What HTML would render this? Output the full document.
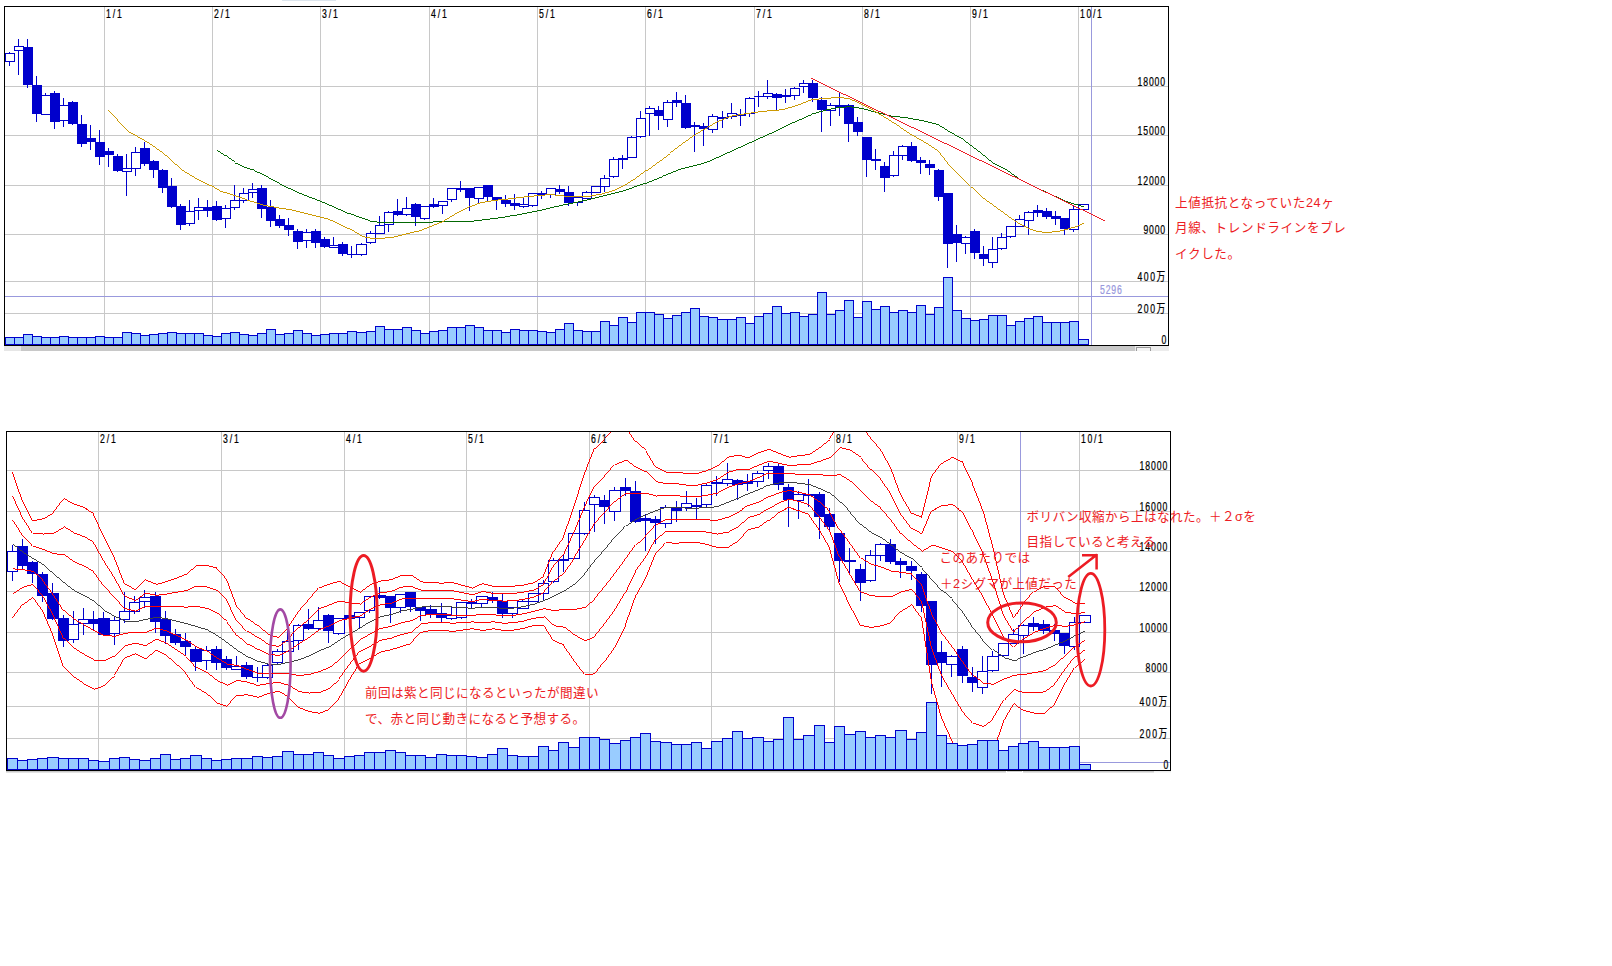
<!DOCTYPE html>
<html lang="ja"><head><meta charset="utf-8"><title>chart</title>
<style>
html,body{margin:0;padding:0;background:#fff;}
body{width:1612px;height:966px;overflow:hidden;font-family:"Liberation Sans","Noto Sans CJK JP",sans-serif;}
svg{display:block;font-family:"Liberation Sans","Noto Sans CJK JP",sans-serif;}
</style></head><body>
<svg width="1612" height="966" viewBox="0 0 1612 966">
<rect width="1612" height="966" fill="#fff"/>
<rect x="282" y="0" width="54" height="1" fill="#dde6ee"/>
<g shape-rendering="crispEdges">
<rect x="104" y="6" width="1" height="339" fill="#c8c8c8"/>
<rect x="212" y="6" width="1" height="339" fill="#c8c8c8"/>
<rect x="320" y="6" width="1" height="339" fill="#c8c8c8"/>
<rect x="429" y="6" width="1" height="339" fill="#c8c8c8"/>
<rect x="537" y="6" width="1" height="339" fill="#c8c8c8"/>
<rect x="645" y="6" width="1" height="339" fill="#c8c8c8"/>
<rect x="754" y="6" width="1" height="339" fill="#c8c8c8"/>
<rect x="862" y="6" width="1" height="339" fill="#c8c8c8"/>
<rect x="970" y="6" width="1" height="339" fill="#c8c8c8"/>
<rect x="1078" y="6" width="1" height="339" fill="#c8c8c8"/>
<rect x="4" y="86" width="1164" height="1" fill="#c8c8c8"/>
<rect x="4" y="135" width="1164" height="1" fill="#c8c8c8"/>
<rect x="4" y="185" width="1164" height="1" fill="#c8c8c8"/>
<rect x="4" y="234" width="1164" height="1" fill="#c8c8c8"/>
<rect x="4" y="281" width="1164" height="1" fill="#c8c8c8"/>
<rect x="4" y="313" width="1164" height="1" fill="#c8c8c8"/>
<rect x="4" y="296" width="1164" height="1" fill="#9999dd"/>
<rect x="1091" y="6" width="1" height="339" fill="#9999dd"/>
</g>
<g shape-rendering="crispEdges">
<rect x="5.5" y="337.5" width="9" height="7" fill="#99ccff" stroke="#0000cc"/>
<rect x="14.5" y="337.5" width="9" height="7" fill="#99ccff" stroke="#0000cc"/>
<rect x="23.5" y="334.5" width="9" height="10" fill="#99ccff" stroke="#0000cc"/>
<rect x="32.5" y="336.5" width="9" height="8" fill="#99ccff" stroke="#0000cc"/>
<rect x="41.5" y="337.5" width="9" height="7" fill="#99ccff" stroke="#0000cc"/>
<rect x="50.5" y="337.5" width="9" height="7" fill="#99ccff" stroke="#0000cc"/>
<rect x="59.5" y="336.5" width="9" height="8" fill="#99ccff" stroke="#0000cc"/>
<rect x="68.5" y="337.5" width="9" height="7" fill="#99ccff" stroke="#0000cc"/>
<rect x="77.5" y="337.5" width="9" height="7" fill="#99ccff" stroke="#0000cc"/>
<rect x="86.5" y="337.5" width="9" height="7" fill="#99ccff" stroke="#0000cc"/>
<rect x="95.5" y="336.5" width="9" height="8" fill="#99ccff" stroke="#0000cc"/>
<rect x="104.5" y="337.5" width="9" height="7" fill="#99ccff" stroke="#0000cc"/>
<rect x="113.5" y="337.5" width="9" height="7" fill="#99ccff" stroke="#0000cc"/>
<rect x="122.5" y="332.5" width="9" height="12" fill="#99ccff" stroke="#0000cc"/>
<rect x="131.5" y="333.5" width="9" height="11" fill="#99ccff" stroke="#0000cc"/>
<rect x="140.5" y="335.5" width="9" height="9" fill="#99ccff" stroke="#0000cc"/>
<rect x="149.5" y="334.5" width="9" height="10" fill="#99ccff" stroke="#0000cc"/>
<rect x="158.5" y="333.5" width="9" height="11" fill="#99ccff" stroke="#0000cc"/>
<rect x="167.5" y="332.5" width="9" height="12" fill="#99ccff" stroke="#0000cc"/>
<rect x="176.5" y="333.5" width="9" height="11" fill="#99ccff" stroke="#0000cc"/>
<rect x="185.5" y="333.5" width="9" height="11" fill="#99ccff" stroke="#0000cc"/>
<rect x="194.5" y="333.5" width="9" height="11" fill="#99ccff" stroke="#0000cc"/>
<rect x="203.5" y="335.5" width="9" height="9" fill="#99ccff" stroke="#0000cc"/>
<rect x="212.5" y="336.5" width="9" height="8" fill="#99ccff" stroke="#0000cc"/>
<rect x="221.5" y="333.5" width="9" height="11" fill="#99ccff" stroke="#0000cc"/>
<rect x="230.5" y="332.5" width="9" height="12" fill="#99ccff" stroke="#0000cc"/>
<rect x="239.5" y="334.5" width="9" height="10" fill="#99ccff" stroke="#0000cc"/>
<rect x="248.5" y="335.5" width="9" height="9" fill="#99ccff" stroke="#0000cc"/>
<rect x="257.5" y="333.5" width="9" height="11" fill="#99ccff" stroke="#0000cc"/>
<rect x="266.5" y="329.5" width="9" height="15" fill="#99ccff" stroke="#0000cc"/>
<rect x="275.5" y="334.5" width="9" height="10" fill="#99ccff" stroke="#0000cc"/>
<rect x="284.5" y="333.5" width="9" height="11" fill="#99ccff" stroke="#0000cc"/>
<rect x="293.5" y="330.5" width="9" height="14" fill="#99ccff" stroke="#0000cc"/>
<rect x="302.5" y="333.5" width="9" height="11" fill="#99ccff" stroke="#0000cc"/>
<rect x="311.5" y="335.5" width="9" height="9" fill="#99ccff" stroke="#0000cc"/>
<rect x="320.5" y="334.5" width="9" height="10" fill="#99ccff" stroke="#0000cc"/>
<rect x="329.5" y="333.5" width="9" height="11" fill="#99ccff" stroke="#0000cc"/>
<rect x="338.5" y="333.5" width="9" height="11" fill="#99ccff" stroke="#0000cc"/>
<rect x="347.5" y="331.5" width="9" height="13" fill="#99ccff" stroke="#0000cc"/>
<rect x="356.5" y="332.5" width="10" height="12" fill="#99ccff" stroke="#0000cc"/>
<rect x="366.5" y="331.5" width="9" height="13" fill="#99ccff" stroke="#0000cc"/>
<rect x="375.5" y="326.5" width="9" height="18" fill="#99ccff" stroke="#0000cc"/>
<rect x="384.5" y="329.5" width="9" height="15" fill="#99ccff" stroke="#0000cc"/>
<rect x="393.5" y="329.5" width="9" height="15" fill="#99ccff" stroke="#0000cc"/>
<rect x="402.5" y="327.5" width="9" height="17" fill="#99ccff" stroke="#0000cc"/>
<rect x="411.5" y="330.5" width="9" height="14" fill="#99ccff" stroke="#0000cc"/>
<rect x="420.5" y="333.5" width="9" height="11" fill="#99ccff" stroke="#0000cc"/>
<rect x="429.5" y="331.5" width="9" height="13" fill="#99ccff" stroke="#0000cc"/>
<rect x="438.5" y="330.5" width="9" height="14" fill="#99ccff" stroke="#0000cc"/>
<rect x="447.5" y="327.5" width="9" height="17" fill="#99ccff" stroke="#0000cc"/>
<rect x="456.5" y="327.5" width="9" height="17" fill="#99ccff" stroke="#0000cc"/>
<rect x="465.5" y="325.5" width="9" height="19" fill="#99ccff" stroke="#0000cc"/>
<rect x="474.5" y="327.5" width="9" height="17" fill="#99ccff" stroke="#0000cc"/>
<rect x="483.5" y="330.5" width="9" height="14" fill="#99ccff" stroke="#0000cc"/>
<rect x="492.5" y="330.5" width="9" height="14" fill="#99ccff" stroke="#0000cc"/>
<rect x="501.5" y="332.5" width="9" height="12" fill="#99ccff" stroke="#0000cc"/>
<rect x="510.5" y="329.5" width="9" height="15" fill="#99ccff" stroke="#0000cc"/>
<rect x="519.5" y="330.5" width="9" height="14" fill="#99ccff" stroke="#0000cc"/>
<rect x="528.5" y="330.5" width="9" height="14" fill="#99ccff" stroke="#0000cc"/>
<rect x="537.5" y="331.5" width="9" height="13" fill="#99ccff" stroke="#0000cc"/>
<rect x="546.5" y="332.5" width="9" height="12" fill="#99ccff" stroke="#0000cc"/>
<rect x="555.5" y="329.5" width="9" height="15" fill="#99ccff" stroke="#0000cc"/>
<rect x="564.5" y="323.5" width="9" height="21" fill="#99ccff" stroke="#0000cc"/>
<rect x="573.5" y="330.5" width="9" height="14" fill="#99ccff" stroke="#0000cc"/>
<rect x="582.5" y="331.5" width="9" height="13" fill="#99ccff" stroke="#0000cc"/>
<rect x="591.5" y="331.5" width="9" height="13" fill="#99ccff" stroke="#0000cc"/>
<rect x="600.5" y="321.5" width="9" height="23" fill="#99ccff" stroke="#0000cc"/>
<rect x="609.5" y="325.5" width="9" height="19" fill="#99ccff" stroke="#0000cc"/>
<rect x="618.5" y="317.5" width="9" height="27" fill="#99ccff" stroke="#0000cc"/>
<rect x="627.5" y="322.5" width="9" height="22" fill="#99ccff" stroke="#0000cc"/>
<rect x="636.5" y="312.5" width="9" height="32" fill="#99ccff" stroke="#0000cc"/>
<rect x="645.5" y="312.5" width="9" height="32" fill="#99ccff" stroke="#0000cc"/>
<rect x="654.5" y="314.5" width="9" height="30" fill="#99ccff" stroke="#0000cc"/>
<rect x="663.5" y="318.5" width="9" height="26" fill="#99ccff" stroke="#0000cc"/>
<rect x="672.5" y="315.5" width="9" height="29" fill="#99ccff" stroke="#0000cc"/>
<rect x="681.5" y="312.5" width="9" height="32" fill="#99ccff" stroke="#0000cc"/>
<rect x="690.5" y="308.5" width="9" height="36" fill="#99ccff" stroke="#0000cc"/>
<rect x="699.5" y="316.5" width="9" height="28" fill="#99ccff" stroke="#0000cc"/>
<rect x="708.5" y="317.5" width="9" height="27" fill="#99ccff" stroke="#0000cc"/>
<rect x="717.5" y="319.5" width="10" height="25" fill="#99ccff" stroke="#0000cc"/>
<rect x="727.5" y="319.5" width="9" height="25" fill="#99ccff" stroke="#0000cc"/>
<rect x="736.5" y="317.5" width="9" height="27" fill="#99ccff" stroke="#0000cc"/>
<rect x="745.5" y="323.5" width="9" height="21" fill="#99ccff" stroke="#0000cc"/>
<rect x="754.5" y="316.5" width="9" height="28" fill="#99ccff" stroke="#0000cc"/>
<rect x="763.5" y="313.5" width="9" height="31" fill="#99ccff" stroke="#0000cc"/>
<rect x="772.5" y="306.5" width="9" height="38" fill="#99ccff" stroke="#0000cc"/>
<rect x="781.5" y="313.5" width="9" height="31" fill="#99ccff" stroke="#0000cc"/>
<rect x="790.5" y="312.5" width="9" height="32" fill="#99ccff" stroke="#0000cc"/>
<rect x="799.5" y="316.5" width="9" height="28" fill="#99ccff" stroke="#0000cc"/>
<rect x="808.5" y="314.5" width="9" height="30" fill="#99ccff" stroke="#0000cc"/>
<rect x="817.5" y="292.5" width="9" height="52" fill="#99ccff" stroke="#0000cc"/>
<rect x="826.5" y="314.5" width="9" height="30" fill="#99ccff" stroke="#0000cc"/>
<rect x="835.5" y="310.5" width="9" height="34" fill="#99ccff" stroke="#0000cc"/>
<rect x="844.5" y="300.5" width="9" height="44" fill="#99ccff" stroke="#0000cc"/>
<rect x="853.5" y="317.5" width="9" height="27" fill="#99ccff" stroke="#0000cc"/>
<rect x="862.5" y="301.5" width="9" height="43" fill="#99ccff" stroke="#0000cc"/>
<rect x="871.5" y="309.5" width="9" height="35" fill="#99ccff" stroke="#0000cc"/>
<rect x="880.5" y="306.5" width="9" height="38" fill="#99ccff" stroke="#0000cc"/>
<rect x="889.5" y="312.5" width="9" height="32" fill="#99ccff" stroke="#0000cc"/>
<rect x="898.5" y="310.5" width="9" height="34" fill="#99ccff" stroke="#0000cc"/>
<rect x="907.5" y="312.5" width="9" height="32" fill="#99ccff" stroke="#0000cc"/>
<rect x="916.5" y="305.5" width="9" height="39" fill="#99ccff" stroke="#0000cc"/>
<rect x="925.5" y="314.5" width="9" height="30" fill="#99ccff" stroke="#0000cc"/>
<rect x="934.5" y="307.5" width="9" height="37" fill="#99ccff" stroke="#0000cc"/>
<rect x="943.5" y="277.5" width="9" height="67" fill="#99ccff" stroke="#0000cc"/>
<rect x="952.5" y="310.5" width="9" height="34" fill="#99ccff" stroke="#0000cc"/>
<rect x="961.5" y="318.5" width="9" height="26" fill="#99ccff" stroke="#0000cc"/>
<rect x="970.5" y="320.5" width="9" height="24" fill="#99ccff" stroke="#0000cc"/>
<rect x="979.5" y="319.5" width="9" height="25" fill="#99ccff" stroke="#0000cc"/>
<rect x="988.5" y="315.5" width="9" height="29" fill="#99ccff" stroke="#0000cc"/>
<rect x="997.5" y="315.5" width="9" height="29" fill="#99ccff" stroke="#0000cc"/>
<rect x="1006.5" y="325.5" width="9" height="19" fill="#99ccff" stroke="#0000cc"/>
<rect x="1015.5" y="321.5" width="9" height="23" fill="#99ccff" stroke="#0000cc"/>
<rect x="1024.5" y="318.5" width="9" height="26" fill="#99ccff" stroke="#0000cc"/>
<rect x="1033.5" y="316.5" width="9" height="28" fill="#99ccff" stroke="#0000cc"/>
<rect x="1042.5" y="322.5" width="9" height="22" fill="#99ccff" stroke="#0000cc"/>
<rect x="1051.5" y="322.5" width="9" height="22" fill="#99ccff" stroke="#0000cc"/>
<rect x="1060.5" y="322.5" width="9" height="22" fill="#99ccff" stroke="#0000cc"/>
<rect x="1069.5" y="321.5" width="9" height="23" fill="#99ccff" stroke="#0000cc"/>
<rect x="1078.5" y="339.5" width="10" height="5" fill="#99ccff" stroke="#0000cc"/>
</g>
<g shape-rendering="crispEdges">
<rect x="9" y="52" width="1" height="1" fill="#0000cc"/>
<rect x="9" y="62" width="1" height="4" fill="#0000cc"/>
<rect x="5.5" y="53.5" width="9" height="8" fill="#fff" stroke="#0000cc"/>
<rect x="18" y="39" width="1" height="7" fill="#0000cc"/>
<rect x="18" y="51" width="1" height="24" fill="#0000cc"/>
<rect x="14.5" y="46.5" width="9" height="4" fill="#fff" stroke="#0000cc"/>
<rect x="27" y="39" width="1" height="8" fill="#0000cc"/>
<rect x="27" y="85" width="1" height="3" fill="#0000cc"/>
<rect x="23" y="47" width="10" height="38" fill="#0000cc"/>
<rect x="36" y="76" width="1" height="9" fill="#0000cc"/>
<rect x="36" y="114" width="1" height="8" fill="#0000cc"/>
<rect x="32" y="85" width="10" height="29" fill="#0000cc"/>
<rect x="45" y="93" width="1" height="2" fill="#0000cc"/>
<rect x="41.5" y="95.5" width="9" height="19" fill="#fff" stroke="#0000cc"/>
<rect x="54" y="91" width="1" height="2" fill="#0000cc"/>
<rect x="54" y="122" width="1" height="7" fill="#0000cc"/>
<rect x="50" y="93" width="10" height="29" fill="#0000cc"/>
<rect x="63" y="98" width="1" height="7" fill="#0000cc"/>
<rect x="63" y="121" width="1" height="6" fill="#0000cc"/>
<rect x="59.5" y="105.5" width="9" height="15" fill="#fff" stroke="#0000cc"/>
<rect x="72" y="101" width="1" height="1" fill="#0000cc"/>
<rect x="72" y="124" width="1" height="1" fill="#0000cc"/>
<rect x="68" y="102" width="10" height="22" fill="#0000cc"/>
<rect x="81" y="115" width="1" height="9" fill="#0000cc"/>
<rect x="81" y="144" width="1" height="3" fill="#0000cc"/>
<rect x="77" y="124" width="10" height="20" fill="#0000cc"/>
<rect x="90" y="125" width="1" height="13" fill="#0000cc"/>
<rect x="90" y="142" width="1" height="8" fill="#0000cc"/>
<rect x="86" y="138" width="10" height="4" fill="#0000cc"/>
<rect x="99" y="130" width="1" height="12" fill="#0000cc"/>
<rect x="99" y="157" width="1" height="8" fill="#0000cc"/>
<rect x="95" y="142" width="10" height="15" fill="#0000cc"/>
<rect x="108" y="148" width="1" height="3" fill="#0000cc"/>
<rect x="108" y="155" width="1" height="12" fill="#0000cc"/>
<rect x="104" y="151" width="10" height="4" fill="#0000cc"/>
<rect x="117" y="154" width="1" height="2" fill="#0000cc"/>
<rect x="117" y="171" width="1" height="1" fill="#0000cc"/>
<rect x="113" y="156" width="10" height="15" fill="#0000cc"/>
<rect x="126" y="154" width="1" height="14" fill="#0000cc"/>
<rect x="126" y="172" width="1" height="24" fill="#0000cc"/>
<rect x="122.5" y="168.5" width="9" height="3" fill="#fff" stroke="#0000cc"/>
<rect x="135" y="147" width="1" height="5" fill="#0000cc"/>
<rect x="135" y="169" width="1" height="7" fill="#0000cc"/>
<rect x="131.5" y="152.5" width="9" height="16" fill="#fff" stroke="#0000cc"/>
<rect x="144" y="142" width="1" height="6" fill="#0000cc"/>
<rect x="144" y="164" width="1" height="2" fill="#0000cc"/>
<rect x="140" y="148" width="10" height="16" fill="#0000cc"/>
<rect x="153" y="160" width="1" height="1" fill="#0000cc"/>
<rect x="153" y="170" width="1" height="8" fill="#0000cc"/>
<rect x="149" y="161" width="10" height="9" fill="#0000cc"/>
<rect x="162" y="169" width="1" height="1" fill="#0000cc"/>
<rect x="162" y="188" width="1" height="5" fill="#0000cc"/>
<rect x="158" y="170" width="10" height="18" fill="#0000cc"/>
<rect x="171" y="178" width="1" height="8" fill="#0000cc"/>
<rect x="171" y="207" width="1" height="1" fill="#0000cc"/>
<rect x="167" y="186" width="10" height="21" fill="#0000cc"/>
<rect x="180" y="204" width="1" height="2" fill="#0000cc"/>
<rect x="180" y="225" width="1" height="5" fill="#0000cc"/>
<rect x="176" y="206" width="10" height="19" fill="#0000cc"/>
<rect x="189" y="200" width="1" height="11" fill="#0000cc"/>
<rect x="189" y="224" width="1" height="2" fill="#0000cc"/>
<rect x="185.5" y="211.5" width="9" height="12" fill="#fff" stroke="#0000cc"/>
<rect x="198" y="198" width="1" height="9" fill="#0000cc"/>
<rect x="198" y="211" width="1" height="9" fill="#0000cc"/>
<rect x="194.5" y="207.5" width="9" height="3" fill="#fff" stroke="#0000cc"/>
<rect x="207" y="200" width="1" height="7" fill="#0000cc"/>
<rect x="207" y="211" width="1" height="6" fill="#0000cc"/>
<rect x="203" y="207" width="10" height="4" fill="#0000cc"/>
<rect x="216" y="201" width="1" height="5" fill="#0000cc"/>
<rect x="216" y="220" width="1" height="1" fill="#0000cc"/>
<rect x="212" y="206" width="10" height="14" fill="#0000cc"/>
<rect x="225" y="205" width="1" height="3" fill="#0000cc"/>
<rect x="225" y="219" width="1" height="9" fill="#0000cc"/>
<rect x="221.5" y="208.5" width="9" height="10" fill="#fff" stroke="#0000cc"/>
<rect x="234" y="185" width="1" height="15" fill="#0000cc"/>
<rect x="234" y="208" width="1" height="2" fill="#0000cc"/>
<rect x="230.5" y="200.5" width="9" height="7" fill="#fff" stroke="#0000cc"/>
<rect x="243" y="188" width="1" height="5" fill="#0000cc"/>
<rect x="243" y="201" width="1" height="2" fill="#0000cc"/>
<rect x="239.5" y="193.5" width="9" height="7" fill="#fff" stroke="#0000cc"/>
<rect x="252" y="183" width="1" height="6" fill="#0000cc"/>
<rect x="252" y="193" width="1" height="5" fill="#0000cc"/>
<rect x="248.5" y="189.5" width="9" height="3" fill="#fff" stroke="#0000cc"/>
<rect x="261" y="185" width="1" height="3" fill="#0000cc"/>
<rect x="261" y="209" width="1" height="9" fill="#0000cc"/>
<rect x="257" y="188" width="10" height="21" fill="#0000cc"/>
<rect x="270" y="200" width="1" height="7" fill="#0000cc"/>
<rect x="270" y="221" width="1" height="6" fill="#0000cc"/>
<rect x="266" y="207" width="10" height="14" fill="#0000cc"/>
<rect x="279" y="215" width="1" height="4" fill="#0000cc"/>
<rect x="279" y="226" width="1" height="2" fill="#0000cc"/>
<rect x="275" y="219" width="10" height="7" fill="#0000cc"/>
<rect x="288" y="218" width="1" height="7" fill="#0000cc"/>
<rect x="288" y="230" width="1" height="6" fill="#0000cc"/>
<rect x="284" y="225" width="10" height="5" fill="#0000cc"/>
<rect x="297" y="229" width="1" height="2" fill="#0000cc"/>
<rect x="297" y="242" width="1" height="7" fill="#0000cc"/>
<rect x="293" y="231" width="10" height="11" fill="#0000cc"/>
<rect x="306" y="229" width="1" height="3" fill="#0000cc"/>
<rect x="306" y="241" width="1" height="7" fill="#0000cc"/>
<rect x="302.5" y="232.5" width="9" height="8" fill="#fff" stroke="#0000cc"/>
<rect x="315" y="229" width="1" height="2" fill="#0000cc"/>
<rect x="315" y="243" width="1" height="5" fill="#0000cc"/>
<rect x="311" y="231" width="10" height="12" fill="#0000cc"/>
<rect x="324" y="237" width="1" height="2" fill="#0000cc"/>
<rect x="324" y="247" width="1" height="1" fill="#0000cc"/>
<rect x="320" y="239" width="10" height="8" fill="#0000cc"/>
<rect x="333" y="237" width="1" height="8" fill="#0000cc"/>
<rect x="329.5" y="245.5" width="9" height="2" fill="#fff" stroke="#0000cc"/>
<rect x="342" y="242" width="1" height="2" fill="#0000cc"/>
<rect x="342" y="254" width="1" height="2" fill="#0000cc"/>
<rect x="338" y="244" width="10" height="10" fill="#0000cc"/>
<rect x="351" y="246" width="1" height="8" fill="#0000cc"/>
<rect x="351" y="255" width="1" height="3" fill="#0000cc"/>
<rect x="347" y="254" width="10" height="1" fill="#0000cc"/>
<rect x="361" y="243" width="1" height="1" fill="#0000cc"/>
<rect x="361" y="255" width="1" height="1" fill="#0000cc"/>
<rect x="356.5" y="244.5" width="10" height="10" fill="#fff" stroke="#0000cc"/>
<rect x="370" y="231" width="1" height="2" fill="#0000cc"/>
<rect x="370" y="243" width="1" height="1" fill="#0000cc"/>
<rect x="366.5" y="233.5" width="9" height="9" fill="#fff" stroke="#0000cc"/>
<rect x="379" y="216" width="1" height="9" fill="#0000cc"/>
<rect x="375.5" y="225.5" width="9" height="8" fill="#fff" stroke="#0000cc"/>
<rect x="388" y="211" width="1" height="1" fill="#0000cc"/>
<rect x="388" y="225" width="1" height="7" fill="#0000cc"/>
<rect x="384.5" y="212.5" width="9" height="12" fill="#fff" stroke="#0000cc"/>
<rect x="397" y="199" width="1" height="12" fill="#0000cc"/>
<rect x="397" y="215" width="1" height="1" fill="#0000cc"/>
<rect x="393" y="211" width="10" height="4" fill="#0000cc"/>
<rect x="406" y="197" width="1" height="11" fill="#0000cc"/>
<rect x="406" y="215" width="1" height="1" fill="#0000cc"/>
<rect x="402.5" y="208.5" width="9" height="6" fill="#fff" stroke="#0000cc"/>
<rect x="415" y="203" width="1" height="1" fill="#0000cc"/>
<rect x="415" y="217" width="1" height="9" fill="#0000cc"/>
<rect x="411" y="204" width="10" height="13" fill="#0000cc"/>
<rect x="424" y="219" width="1" height="1" fill="#0000cc"/>
<rect x="420.5" y="206.5" width="9" height="12" fill="#fff" stroke="#0000cc"/>
<rect x="433" y="198" width="1" height="6" fill="#0000cc"/>
<rect x="433" y="207" width="1" height="1" fill="#0000cc"/>
<rect x="429" y="204" width="10" height="3" fill="#0000cc"/>
<rect x="442" y="206" width="1" height="8" fill="#0000cc"/>
<rect x="438.5" y="201.5" width="9" height="4" fill="#fff" stroke="#0000cc"/>
<rect x="451" y="200" width="1" height="2" fill="#0000cc"/>
<rect x="447.5" y="188.5" width="9" height="11" fill="#fff" stroke="#0000cc"/>
<rect x="460" y="181" width="1" height="7" fill="#0000cc"/>
<rect x="460" y="190" width="1" height="2" fill="#0000cc"/>
<rect x="456" y="188" width="10" height="2" fill="#0000cc"/>
<rect x="469" y="198" width="1" height="13" fill="#0000cc"/>
<rect x="465" y="188" width="10" height="10" fill="#0000cc"/>
<rect x="478" y="199" width="1" height="4" fill="#0000cc"/>
<rect x="474.5" y="187.5" width="9" height="11" fill="#fff" stroke="#0000cc"/>
<rect x="487" y="197" width="1" height="4" fill="#0000cc"/>
<rect x="483" y="185" width="10" height="12" fill="#0000cc"/>
<rect x="496" y="200" width="1" height="10" fill="#0000cc"/>
<rect x="492" y="197" width="10" height="3" fill="#0000cc"/>
<rect x="505" y="195" width="1" height="5" fill="#0000cc"/>
<rect x="505" y="204" width="1" height="3" fill="#0000cc"/>
<rect x="501" y="200" width="10" height="4" fill="#0000cc"/>
<rect x="514" y="194" width="1" height="9" fill="#0000cc"/>
<rect x="514" y="206" width="1" height="4" fill="#0000cc"/>
<rect x="510" y="203" width="10" height="3" fill="#0000cc"/>
<rect x="523" y="198" width="1" height="6" fill="#0000cc"/>
<rect x="523" y="207" width="1" height="1" fill="#0000cc"/>
<rect x="519.5" y="204.5" width="9" height="2" fill="#fff" stroke="#0000cc"/>
<rect x="532" y="206" width="1" height="1" fill="#0000cc"/>
<rect x="528.5" y="193.5" width="9" height="12" fill="#fff" stroke="#0000cc"/>
<rect x="541" y="191" width="1" height="2" fill="#0000cc"/>
<rect x="541" y="195" width="1" height="4" fill="#0000cc"/>
<rect x="537" y="193" width="10" height="2" fill="#0000cc"/>
<rect x="550" y="195" width="1" height="3" fill="#0000cc"/>
<rect x="546.5" y="188.5" width="9" height="6" fill="#fff" stroke="#0000cc"/>
<rect x="559" y="185" width="1" height="4" fill="#0000cc"/>
<rect x="559" y="192" width="1" height="2" fill="#0000cc"/>
<rect x="555" y="189" width="10" height="3" fill="#0000cc"/>
<rect x="568" y="186" width="1" height="6" fill="#0000cc"/>
<rect x="568" y="203" width="1" height="3" fill="#0000cc"/>
<rect x="564" y="192" width="10" height="11" fill="#0000cc"/>
<rect x="577" y="203" width="1" height="3" fill="#0000cc"/>
<rect x="573.5" y="197.5" width="9" height="5" fill="#fff" stroke="#0000cc"/>
<rect x="586" y="191" width="1" height="1" fill="#0000cc"/>
<rect x="582.5" y="192.5" width="9" height="6" fill="#fff" stroke="#0000cc"/>
<rect x="591.5" y="186.5" width="9" height="6" fill="#fff" stroke="#0000cc"/>
<rect x="604" y="175" width="1" height="3" fill="#0000cc"/>
<rect x="604" y="187" width="1" height="5" fill="#0000cc"/>
<rect x="600.5" y="178.5" width="9" height="8" fill="#fff" stroke="#0000cc"/>
<rect x="613" y="157" width="1" height="2" fill="#0000cc"/>
<rect x="613" y="177" width="1" height="1" fill="#0000cc"/>
<rect x="609.5" y="159.5" width="9" height="17" fill="#fff" stroke="#0000cc"/>
<rect x="622" y="155" width="1" height="3" fill="#0000cc"/>
<rect x="622" y="160" width="1" height="9" fill="#0000cc"/>
<rect x="618" y="158" width="10" height="2" fill="#0000cc"/>
<rect x="631" y="136" width="1" height="1" fill="#0000cc"/>
<rect x="627.5" y="137.5" width="9" height="20" fill="#fff" stroke="#0000cc"/>
<rect x="640" y="111" width="1" height="7" fill="#0000cc"/>
<rect x="640" y="137" width="1" height="1" fill="#0000cc"/>
<rect x="636.5" y="118.5" width="9" height="18" fill="#fff" stroke="#0000cc"/>
<rect x="649" y="106" width="1" height="2" fill="#0000cc"/>
<rect x="649" y="114" width="1" height="22" fill="#0000cc"/>
<rect x="645.5" y="108.5" width="9" height="5" fill="#fff" stroke="#0000cc"/>
<rect x="658" y="106" width="1" height="4" fill="#0000cc"/>
<rect x="658" y="116" width="1" height="14" fill="#0000cc"/>
<rect x="654" y="110" width="10" height="6" fill="#0000cc"/>
<rect x="667" y="100" width="1" height="2" fill="#0000cc"/>
<rect x="667" y="120" width="1" height="7" fill="#0000cc"/>
<rect x="663.5" y="102.5" width="9" height="17" fill="#fff" stroke="#0000cc"/>
<rect x="676" y="92" width="1" height="8" fill="#0000cc"/>
<rect x="676" y="103" width="1" height="4" fill="#0000cc"/>
<rect x="672" y="100" width="10" height="3" fill="#0000cc"/>
<rect x="685" y="95" width="1" height="8" fill="#0000cc"/>
<rect x="685" y="128" width="1" height="1" fill="#0000cc"/>
<rect x="681" y="103" width="10" height="25" fill="#0000cc"/>
<rect x="694" y="122" width="1" height="3" fill="#0000cc"/>
<rect x="694" y="127" width="1" height="25" fill="#0000cc"/>
<rect x="690" y="125" width="10" height="2" fill="#0000cc"/>
<rect x="703" y="123" width="1" height="3" fill="#0000cc"/>
<rect x="703" y="129" width="1" height="17" fill="#0000cc"/>
<rect x="699" y="126" width="10" height="3" fill="#0000cc"/>
<rect x="712" y="114" width="1" height="2" fill="#0000cc"/>
<rect x="712" y="130" width="1" height="3" fill="#0000cc"/>
<rect x="708.5" y="116.5" width="9" height="13" fill="#fff" stroke="#0000cc"/>
<rect x="722" y="111" width="1" height="6" fill="#0000cc"/>
<rect x="722" y="119" width="1" height="9" fill="#0000cc"/>
<rect x="717" y="117" width="11" height="2" fill="#0000cc"/>
<rect x="731" y="103" width="1" height="10" fill="#0000cc"/>
<rect x="731" y="117" width="1" height="2" fill="#0000cc"/>
<rect x="727.5" y="113.5" width="9" height="3" fill="#fff" stroke="#0000cc"/>
<rect x="740" y="109" width="1" height="5" fill="#0000cc"/>
<rect x="740" y="116" width="1" height="10" fill="#0000cc"/>
<rect x="736" y="114" width="10" height="2" fill="#0000cc"/>
<rect x="749" y="97" width="1" height="1" fill="#0000cc"/>
<rect x="749" y="114" width="1" height="3" fill="#0000cc"/>
<rect x="745.5" y="98.5" width="9" height="15" fill="#fff" stroke="#0000cc"/>
<rect x="758" y="91" width="1" height="5" fill="#0000cc"/>
<rect x="758" y="97" width="1" height="10" fill="#0000cc"/>
<rect x="754" y="96" width="10" height="1" fill="#0000cc"/>
<rect x="767" y="80" width="1" height="13" fill="#0000cc"/>
<rect x="767" y="97" width="1" height="2" fill="#0000cc"/>
<rect x="763.5" y="93.5" width="9" height="3" fill="#fff" stroke="#0000cc"/>
<rect x="776" y="93" width="1" height="1" fill="#0000cc"/>
<rect x="776" y="98" width="1" height="12" fill="#0000cc"/>
<rect x="772" y="94" width="10" height="4" fill="#0000cc"/>
<rect x="785" y="89" width="1" height="6" fill="#0000cc"/>
<rect x="785" y="97" width="1" height="6" fill="#0000cc"/>
<rect x="781" y="95" width="10" height="2" fill="#0000cc"/>
<rect x="794" y="87" width="1" height="1" fill="#0000cc"/>
<rect x="794" y="96" width="1" height="4" fill="#0000cc"/>
<rect x="790.5" y="88.5" width="9" height="7" fill="#fff" stroke="#0000cc"/>
<rect x="803" y="80" width="1" height="3" fill="#0000cc"/>
<rect x="803" y="87" width="1" height="6" fill="#0000cc"/>
<rect x="799.5" y="83.5" width="9" height="3" fill="#fff" stroke="#0000cc"/>
<rect x="812" y="80" width="1" height="3" fill="#0000cc"/>
<rect x="812" y="98" width="1" height="4" fill="#0000cc"/>
<rect x="808" y="83" width="10" height="15" fill="#0000cc"/>
<rect x="821" y="97" width="1" height="3" fill="#0000cc"/>
<rect x="821" y="110" width="1" height="22" fill="#0000cc"/>
<rect x="817" y="100" width="10" height="10" fill="#0000cc"/>
<rect x="830" y="103" width="1" height="2" fill="#0000cc"/>
<rect x="830" y="111" width="1" height="15" fill="#0000cc"/>
<rect x="826.5" y="105.5" width="9" height="5" fill="#fff" stroke="#0000cc"/>
<rect x="839" y="93" width="1" height="12" fill="#0000cc"/>
<rect x="839" y="107" width="1" height="9" fill="#0000cc"/>
<rect x="835" y="105" width="10" height="2" fill="#0000cc"/>
<rect x="848" y="104" width="1" height="1" fill="#0000cc"/>
<rect x="848" y="124" width="1" height="18" fill="#0000cc"/>
<rect x="844" y="105" width="10" height="19" fill="#0000cc"/>
<rect x="857" y="117" width="1" height="5" fill="#0000cc"/>
<rect x="857" y="132" width="1" height="4" fill="#0000cc"/>
<rect x="853" y="122" width="10" height="10" fill="#0000cc"/>
<rect x="866" y="160" width="1" height="17" fill="#0000cc"/>
<rect x="862" y="137" width="10" height="23" fill="#0000cc"/>
<rect x="875" y="149" width="1" height="10" fill="#0000cc"/>
<rect x="875" y="161" width="1" height="9" fill="#0000cc"/>
<rect x="871" y="159" width="10" height="2" fill="#0000cc"/>
<rect x="884" y="162" width="1" height="4" fill="#0000cc"/>
<rect x="884" y="178" width="1" height="14" fill="#0000cc"/>
<rect x="880" y="166" width="10" height="12" fill="#0000cc"/>
<rect x="893" y="151" width="1" height="4" fill="#0000cc"/>
<rect x="893" y="176" width="1" height="1" fill="#0000cc"/>
<rect x="889.5" y="155.5" width="9" height="20" fill="#fff" stroke="#0000cc"/>
<rect x="902" y="145" width="1" height="1" fill="#0000cc"/>
<rect x="902" y="156" width="1" height="4" fill="#0000cc"/>
<rect x="898.5" y="146.5" width="9" height="9" fill="#fff" stroke="#0000cc"/>
<rect x="911" y="142" width="1" height="4" fill="#0000cc"/>
<rect x="911" y="161" width="1" height="1" fill="#0000cc"/>
<rect x="907" y="146" width="10" height="15" fill="#0000cc"/>
<rect x="920" y="157" width="1" height="3" fill="#0000cc"/>
<rect x="920" y="163" width="1" height="11" fill="#0000cc"/>
<rect x="916" y="160" width="10" height="3" fill="#0000cc"/>
<rect x="929" y="160" width="1" height="4" fill="#0000cc"/>
<rect x="929" y="168" width="1" height="7" fill="#0000cc"/>
<rect x="925" y="164" width="10" height="4" fill="#0000cc"/>
<rect x="938" y="169" width="1" height="1" fill="#0000cc"/>
<rect x="938" y="197" width="1" height="4" fill="#0000cc"/>
<rect x="934" y="170" width="10" height="27" fill="#0000cc"/>
<rect x="947" y="244" width="1" height="24" fill="#0000cc"/>
<rect x="943" y="193" width="10" height="51" fill="#0000cc"/>
<rect x="956" y="225" width="1" height="9" fill="#0000cc"/>
<rect x="956" y="243" width="1" height="19" fill="#0000cc"/>
<rect x="952" y="234" width="10" height="9" fill="#0000cc"/>
<rect x="965" y="236" width="1" height="1" fill="#0000cc"/>
<rect x="965" y="244" width="1" height="10" fill="#0000cc"/>
<rect x="961.5" y="237.5" width="9" height="6" fill="#fff" stroke="#0000cc"/>
<rect x="974" y="229" width="1" height="2" fill="#0000cc"/>
<rect x="974" y="253" width="1" height="6" fill="#0000cc"/>
<rect x="970" y="231" width="10" height="22" fill="#0000cc"/>
<rect x="983" y="246" width="1" height="8" fill="#0000cc"/>
<rect x="983" y="259" width="1" height="7" fill="#0000cc"/>
<rect x="979" y="254" width="10" height="5" fill="#0000cc"/>
<rect x="992" y="237" width="1" height="12" fill="#0000cc"/>
<rect x="992" y="263" width="1" height="5" fill="#0000cc"/>
<rect x="988.5" y="249.5" width="9" height="13" fill="#fff" stroke="#0000cc"/>
<rect x="1001" y="233" width="1" height="4" fill="#0000cc"/>
<rect x="1001" y="249" width="1" height="1" fill="#0000cc"/>
<rect x="997.5" y="237.5" width="9" height="11" fill="#fff" stroke="#0000cc"/>
<rect x="1010" y="237" width="1" height="1" fill="#0000cc"/>
<rect x="1006.5" y="226.5" width="9" height="10" fill="#fff" stroke="#0000cc"/>
<rect x="1019" y="215" width="1" height="4" fill="#0000cc"/>
<rect x="1015.5" y="219.5" width="9" height="7" fill="#fff" stroke="#0000cc"/>
<rect x="1028" y="211" width="1" height="1" fill="#0000cc"/>
<rect x="1028" y="221" width="1" height="14" fill="#0000cc"/>
<rect x="1024.5" y="212.5" width="9" height="8" fill="#fff" stroke="#0000cc"/>
<rect x="1037" y="205" width="1" height="5" fill="#0000cc"/>
<rect x="1037" y="213" width="1" height="4" fill="#0000cc"/>
<rect x="1033" y="210" width="10" height="3" fill="#0000cc"/>
<rect x="1046" y="208" width="1" height="3" fill="#0000cc"/>
<rect x="1046" y="217" width="1" height="2" fill="#0000cc"/>
<rect x="1042" y="211" width="10" height="6" fill="#0000cc"/>
<rect x="1055" y="211" width="1" height="5" fill="#0000cc"/>
<rect x="1055" y="219" width="1" height="6" fill="#0000cc"/>
<rect x="1051" y="216" width="10" height="3" fill="#0000cc"/>
<rect x="1064" y="229" width="1" height="6" fill="#0000cc"/>
<rect x="1060" y="218" width="10" height="11" fill="#0000cc"/>
<rect x="1073" y="205" width="1" height="4" fill="#0000cc"/>
<rect x="1073" y="230" width="1" height="2" fill="#0000cc"/>
<rect x="1069.5" y="209.5" width="9" height="20" fill="#fff" stroke="#0000cc"/>
<rect x="1078.5" y="204.5" width="10" height="5" fill="#fff" stroke="#0000cc"/>
</g>
<polyline points="217.1,150.2 225.5,155.8 234.8,162.7 244.1,166.9 251.5,169.4 264.6,175.3 284.2,186.1 302.8,194.5 317.7,200.1 332.6,206.3 347.5,213.2 360.5,217.8 369.9,221.2 381.0,222.5 392.2,222.5 410.9,223.0 429.5,222.1 442.4,221.7 472.2,221.2 494.5,218.4 516.9,215.0 539.2,210.6 561.6,205.3 584.0,200.7 606.3,195.1 625.0,190.4 645.5,183.0 662.2,176.5 680.9,169.0 699.5,164.3 714.2,159.0 736.6,148.8 755.2,140.4 773.8,132.0 792.5,122.7 811.1,114.3 827.9,109.6 839.1,107.4 850.2,106.8 861.4,108.3 876.3,112.4 891.2,116.1 906.1,117.6 922.9,120.8 937.8,124.5 952.2,133.3 962.0,138.5 970.8,145.4 982.0,153.8 993.2,163.1 1006.2,169.6 1019.2,178.9 1030.4,184.5 1039.7,189.2 1065.8,201.3 1083.5,206.9" fill="none" stroke="#006600" stroke-width="0.99" shape-rendering="crispEdges" />
<polyline points="108.4,110.1 123.0,126.0 128.6,131.5 145.3,140.9 150.0,143.8 161.2,151.7 167.7,156.7 181.7,169.9 196.6,178.7 210.5,185.5 218.9,190.8 233.8,195.1 248.8,200.5 265.5,205.7 276.7,207.6 291.6,209.8 308.4,214.1 327.0,218.8 336.3,222.5 347.5,228.1 358.7,234.6 366.1,237.4 373.6,238.5 381.0,238.3 392.2,237.4 399.7,235.5 410.9,232.7 420.2,230.7 429.4,227.0 442.4,221.7 457.3,212.8 468.4,207.2 481.5,202.5 494.5,200.3 509.4,198.8 524.3,197.0 539.2,195.5 550.4,194.5 563.5,196.0 578.4,196.6 591.4,196.0 602.6,193.8 615.6,189.9 625.0,185.2 634.3,179.2 645.5,170.9 658.5,161.5 669.7,153.2 680.9,144.8 693.9,135.5 703.0,130.1 716.1,122.3 731.0,116.1 745.9,113.7 764.5,111.1 783.2,109.6 798.1,105.0 811.1,99.9 824.2,98.4 839.1,97.5 848.4,98.4 857.7,102.2 868.9,107.8 880.0,114.3 895.0,123.6 909.9,133.8 924.8,142.2 937.8,150.6 948.4,164.0 959.6,175.2 970.8,186.4 983.8,198.5 996.9,207.8 1008.1,216.2 1019.2,223.7 1030.4,229.2 1037.9,231.5 1047.2,232.6 1056.5,231.5 1067.7,228.9 1077.0,226.5 1083.5,223.1" fill="none" stroke="#cc9900" stroke-width="0.99" shape-rendering="crispEdges" />
<polyline points="811.1,78.3 1105.0,220.9" fill="none" stroke="#ed1c24" stroke-width="0.99" shape-rendering="crispEdges" />
<g shape-rendering="crispEdges">
<rect x="4" y="6" width="1165" height="1" fill="#000"/>
<rect x="4" y="345" width="1165" height="1" fill="#000"/>
<rect x="4" y="6" width="1" height="340" fill="#000"/>
<rect x="1168" y="6" width="1" height="340" fill="#000"/>
<rect x="4" y="346" width="17" height="5" fill="#e6e6e6"/>
<rect x="21" y="346" width="1114" height="5" fill="#c8c8c8"/>
<rect x="1135" y="346" width="34" height="5" fill="#ececec"/>
<rect x="1136.5" y="347.5" width="14" height="5" fill="#f4f4f4" stroke="#9a9a9a"/>
<rect x="1130" y="351" width="40" height="4" fill="#fff"/>
</g>
<text transform="translate(106.0,18) scale(0.7,1)" font-size="12.4" fill="#000" stroke="#000" stroke-width="0.25" textLength="22.6" lengthAdjust="spacing">1/1</text>
<text transform="translate(214.0,18) scale(0.7,1)" font-size="12.4" fill="#000" stroke="#000" stroke-width="0.25" textLength="22.6" lengthAdjust="spacing">2/1</text>
<text transform="translate(322.0,18) scale(0.7,1)" font-size="12.4" fill="#000" stroke="#000" stroke-width="0.25" textLength="22.6" lengthAdjust="spacing">3/1</text>
<text transform="translate(431.0,18) scale(0.7,1)" font-size="12.4" fill="#000" stroke="#000" stroke-width="0.25" textLength="22.6" lengthAdjust="spacing">4/1</text>
<text transform="translate(539.0,18) scale(0.7,1)" font-size="12.4" fill="#000" stroke="#000" stroke-width="0.25" textLength="22.6" lengthAdjust="spacing">5/1</text>
<text transform="translate(647.0,18) scale(0.7,1)" font-size="12.4" fill="#000" stroke="#000" stroke-width="0.25" textLength="22.6" lengthAdjust="spacing">6/1</text>
<text transform="translate(756.0,18) scale(0.7,1)" font-size="12.4" fill="#000" stroke="#000" stroke-width="0.25" textLength="22.6" lengthAdjust="spacing">7/1</text>
<text transform="translate(864.0,18) scale(0.7,1)" font-size="12.4" fill="#000" stroke="#000" stroke-width="0.25" textLength="22.6" lengthAdjust="spacing">8/1</text>
<text transform="translate(972.0,18) scale(0.7,1)" font-size="12.4" fill="#000" stroke="#000" stroke-width="0.25" textLength="22.6" lengthAdjust="spacing">9/1</text>
<text transform="translate(1080.0,18) scale(0.7,1)" font-size="12.4" fill="#000" stroke="#000" stroke-width="0.25" textLength="31.1" lengthAdjust="spacing">10/1</text>
<text transform="translate(1137.4,86) scale(0.7,1)" font-size="12.4" fill="#000" stroke="#000" stroke-width="0.25" textLength="39.7" lengthAdjust="spacing">18000</text>
<text transform="translate(1137.4,135) scale(0.7,1)" font-size="12.4" fill="#000" stroke="#000" stroke-width="0.25" textLength="39.7" lengthAdjust="spacing">15000</text>
<text transform="translate(1137.4,185) scale(0.7,1)" font-size="12.4" fill="#000" stroke="#000" stroke-width="0.25" textLength="39.7" lengthAdjust="spacing">12000</text>
<text transform="translate(1143.4,234) scale(0.7,1)" font-size="12.4" fill="#000" stroke="#000" stroke-width="0.25" textLength="31.1" lengthAdjust="spacing">9000</text>
<text transform="translate(1137.4,281) scale(0.7,1)" font-size="12.4" fill="#000" stroke="#000" stroke-width="0.25" textLength="39.7" lengthAdjust="spacing">400万</text>
<text transform="translate(1137.4,313) scale(0.7,1)" font-size="12.4" fill="#000" stroke="#000" stroke-width="0.25" textLength="39.7" lengthAdjust="spacing">200万</text>
<text transform="translate(1161.4,344) scale(0.7,1)" font-size="12.4" fill="#000" stroke="#000" stroke-width="0.25" textLength="5.4" lengthAdjust="spacing">0</text>
<text transform="translate(1100.0,294) scale(0.7,1)" font-size="12.4" fill="#9999dd" stroke="#9999dd" stroke-width="0.25" textLength="31.1" lengthAdjust="spacing">5296</text>
<g shape-rendering="crispEdges">
<rect x="98" y="431" width="1" height="339" fill="#c8c8c8"/>
<rect x="221" y="431" width="1" height="339" fill="#c8c8c8"/>
<rect x="344" y="431" width="1" height="339" fill="#c8c8c8"/>
<rect x="466" y="431" width="1" height="339" fill="#c8c8c8"/>
<rect x="589" y="431" width="1" height="339" fill="#c8c8c8"/>
<rect x="711" y="431" width="1" height="339" fill="#c8c8c8"/>
<rect x="834" y="431" width="1" height="339" fill="#c8c8c8"/>
<rect x="957" y="431" width="1" height="339" fill="#c8c8c8"/>
<rect x="1079" y="431" width="1" height="339" fill="#c8c8c8"/>
<rect x="6" y="470" width="1164" height="1" fill="#c8c8c8"/>
<rect x="6" y="511" width="1164" height="1" fill="#c8c8c8"/>
<rect x="6" y="551" width="1164" height="1" fill="#c8c8c8"/>
<rect x="6" y="591" width="1164" height="1" fill="#c8c8c8"/>
<rect x="6" y="632" width="1164" height="1" fill="#c8c8c8"/>
<rect x="6" y="672" width="1164" height="1" fill="#c8c8c8"/>
<rect x="6" y="706" width="1164" height="1" fill="#c8c8c8"/>
<rect x="6" y="738" width="1164" height="1" fill="#c8c8c8"/>
<rect x="1020" y="431" width="1" height="339" fill="#9999dd"/>
<rect x="1080" y="762" width="90" height="1" fill="#9999dd"/>
</g>
<g shape-rendering="crispEdges">
<rect x="12" y="545" width="1" height="6" fill="#0000cc"/>
<rect x="12" y="572" width="1" height="9" fill="#0000cc"/>
<rect x="7.5" y="551.5" width="10" height="20" fill="#fff" stroke="#0000cc"/>
<rect x="22" y="539" width="1" height="7" fill="#0000cc"/>
<rect x="22" y="566" width="1" height="3" fill="#0000cc"/>
<rect x="17" y="546" width="11" height="20" fill="#0000cc"/>
<rect x="32" y="561" width="1" height="1" fill="#0000cc"/>
<rect x="32" y="574" width="1" height="9" fill="#0000cc"/>
<rect x="27" y="562" width="11" height="12" fill="#0000cc"/>
<rect x="42" y="572" width="1" height="2" fill="#0000cc"/>
<rect x="42" y="596" width="1" height="6" fill="#0000cc"/>
<rect x="37" y="574" width="11" height="22" fill="#0000cc"/>
<rect x="52" y="583" width="1" height="10" fill="#0000cc"/>
<rect x="52" y="619" width="1" height="1" fill="#0000cc"/>
<rect x="47" y="593" width="12" height="26" fill="#0000cc"/>
<rect x="63" y="615" width="1" height="3" fill="#0000cc"/>
<rect x="63" y="641" width="1" height="6" fill="#0000cc"/>
<rect x="58" y="618" width="11" height="23" fill="#0000cc"/>
<rect x="73" y="611" width="1" height="13" fill="#0000cc"/>
<rect x="73" y="640" width="1" height="3" fill="#0000cc"/>
<rect x="68.5" y="624.5" width="10" height="15" fill="#fff" stroke="#0000cc"/>
<rect x="83" y="608" width="1" height="11" fill="#0000cc"/>
<rect x="83" y="624" width="1" height="11" fill="#0000cc"/>
<rect x="78.5" y="619.5" width="10" height="4" fill="#fff" stroke="#0000cc"/>
<rect x="93" y="611" width="1" height="8" fill="#0000cc"/>
<rect x="93" y="624" width="1" height="7" fill="#0000cc"/>
<rect x="88" y="619" width="11" height="5" fill="#0000cc"/>
<rect x="103" y="612" width="1" height="6" fill="#0000cc"/>
<rect x="103" y="635" width="1" height="1" fill="#0000cc"/>
<rect x="98" y="618" width="12" height="17" fill="#0000cc"/>
<rect x="114" y="617" width="1" height="3" fill="#0000cc"/>
<rect x="114" y="634" width="1" height="11" fill="#0000cc"/>
<rect x="109.5" y="620.5" width="10" height="13" fill="#fff" stroke="#0000cc"/>
<rect x="124" y="592" width="1" height="19" fill="#0000cc"/>
<rect x="124" y="620" width="1" height="3" fill="#0000cc"/>
<rect x="119.5" y="611.5" width="10" height="8" fill="#fff" stroke="#0000cc"/>
<rect x="134" y="596" width="1" height="6" fill="#0000cc"/>
<rect x="134" y="612" width="1" height="2" fill="#0000cc"/>
<rect x="129.5" y="602.5" width="10" height="9" fill="#fff" stroke="#0000cc"/>
<rect x="144" y="590" width="1" height="7" fill="#0000cc"/>
<rect x="144" y="602" width="1" height="6" fill="#0000cc"/>
<rect x="139.5" y="597.5" width="11" height="4" fill="#fff" stroke="#0000cc"/>
<rect x="155" y="592" width="1" height="4" fill="#0000cc"/>
<rect x="155" y="622" width="1" height="11" fill="#0000cc"/>
<rect x="150" y="596" width="11" height="26" fill="#0000cc"/>
<rect x="165" y="611" width="1" height="8" fill="#0000cc"/>
<rect x="165" y="636" width="1" height="8" fill="#0000cc"/>
<rect x="160" y="619" width="11" height="17" fill="#0000cc"/>
<rect x="175" y="629" width="1" height="5" fill="#0000cc"/>
<rect x="175" y="643" width="1" height="2" fill="#0000cc"/>
<rect x="170" y="634" width="11" height="9" fill="#0000cc"/>
<rect x="185" y="633" width="1" height="8" fill="#0000cc"/>
<rect x="185" y="647" width="1" height="8" fill="#0000cc"/>
<rect x="180" y="641" width="11" height="6" fill="#0000cc"/>
<rect x="195" y="646" width="1" height="3" fill="#0000cc"/>
<rect x="195" y="662" width="1" height="9" fill="#0000cc"/>
<rect x="190" y="649" width="12" height="13" fill="#0000cc"/>
<rect x="206" y="646" width="1" height="4" fill="#0000cc"/>
<rect x="206" y="661" width="1" height="9" fill="#0000cc"/>
<rect x="201.5" y="650.5" width="10" height="10" fill="#fff" stroke="#0000cc"/>
<rect x="216" y="646" width="1" height="3" fill="#0000cc"/>
<rect x="216" y="663" width="1" height="7" fill="#0000cc"/>
<rect x="211" y="649" width="11" height="14" fill="#0000cc"/>
<rect x="226" y="656" width="1" height="3" fill="#0000cc"/>
<rect x="226" y="668" width="1" height="2" fill="#0000cc"/>
<rect x="221" y="659" width="11" height="9" fill="#0000cc"/>
<rect x="236" y="656" width="1" height="10" fill="#0000cc"/>
<rect x="231.5" y="666.5" width="10" height="3" fill="#fff" stroke="#0000cc"/>
<rect x="246" y="662" width="1" height="3" fill="#0000cc"/>
<rect x="246" y="677" width="1" height="2" fill="#0000cc"/>
<rect x="241" y="665" width="12" height="12" fill="#0000cc"/>
<rect x="257" y="667" width="1" height="10" fill="#0000cc"/>
<rect x="257" y="678" width="1" height="4" fill="#0000cc"/>
<rect x="252" y="677" width="11" height="1" fill="#0000cc"/>
<rect x="267" y="663" width="1" height="2" fill="#0000cc"/>
<rect x="267" y="678" width="1" height="1" fill="#0000cc"/>
<rect x="262.5" y="665.5" width="10" height="12" fill="#fff" stroke="#0000cc"/>
<rect x="277" y="649" width="1" height="2" fill="#0000cc"/>
<rect x="277" y="663" width="1" height="2" fill="#0000cc"/>
<rect x="272.5" y="651.5" width="10" height="11" fill="#fff" stroke="#0000cc"/>
<rect x="287" y="630" width="1" height="11" fill="#0000cc"/>
<rect x="282.5" y="641.5" width="11" height="10" fill="#fff" stroke="#0000cc"/>
<rect x="298" y="624" width="1" height="1" fill="#0000cc"/>
<rect x="298" y="641" width="1" height="9" fill="#0000cc"/>
<rect x="293.5" y="625.5" width="10" height="15" fill="#fff" stroke="#0000cc"/>
<rect x="308" y="609" width="1" height="15" fill="#0000cc"/>
<rect x="308" y="629" width="1" height="1" fill="#0000cc"/>
<rect x="303" y="624" width="11" height="5" fill="#0000cc"/>
<rect x="318" y="607" width="1" height="13" fill="#0000cc"/>
<rect x="318" y="629" width="1" height="1" fill="#0000cc"/>
<rect x="313.5" y="620.5" width="10" height="8" fill="#fff" stroke="#0000cc"/>
<rect x="328" y="614" width="1" height="1" fill="#0000cc"/>
<rect x="328" y="631" width="1" height="12" fill="#0000cc"/>
<rect x="323" y="615" width="11" height="16" fill="#0000cc"/>
<rect x="338" y="634" width="1" height="1" fill="#0000cc"/>
<rect x="333.5" y="618.5" width="11" height="15" fill="#fff" stroke="#0000cc"/>
<rect x="349" y="608" width="1" height="7" fill="#0000cc"/>
<rect x="349" y="619" width="1" height="1" fill="#0000cc"/>
<rect x="344" y="615" width="11" height="4" fill="#0000cc"/>
<rect x="359" y="618" width="1" height="10" fill="#0000cc"/>
<rect x="354.5" y="612.5" width="10" height="5" fill="#fff" stroke="#0000cc"/>
<rect x="369" y="611" width="1" height="2" fill="#0000cc"/>
<rect x="364.5" y="596.5" width="10" height="14" fill="#fff" stroke="#0000cc"/>
<rect x="379" y="587" width="1" height="8" fill="#0000cc"/>
<rect x="379" y="598" width="1" height="1" fill="#0000cc"/>
<rect x="374" y="595" width="12" height="3" fill="#0000cc"/>
<rect x="390" y="608" width="1" height="15" fill="#0000cc"/>
<rect x="385" y="596" width="11" height="12" fill="#0000cc"/>
<rect x="400" y="608" width="1" height="5" fill="#0000cc"/>
<rect x="395.5" y="594.5" width="10" height="13" fill="#fff" stroke="#0000cc"/>
<rect x="410" y="607" width="1" height="5" fill="#0000cc"/>
<rect x="405" y="592" width="11" height="15" fill="#0000cc"/>
<rect x="420" y="611" width="1" height="10" fill="#0000cc"/>
<rect x="415" y="607" width="11" height="4" fill="#0000cc"/>
<rect x="430" y="605" width="1" height="4" fill="#0000cc"/>
<rect x="430" y="615" width="1" height="3" fill="#0000cc"/>
<rect x="425" y="609" width="12" height="6" fill="#0000cc"/>
<rect x="441" y="603" width="1" height="10" fill="#0000cc"/>
<rect x="441" y="618" width="1" height="4" fill="#0000cc"/>
<rect x="436" y="613" width="11" height="5" fill="#0000cc"/>
<rect x="451" y="606" width="1" height="9" fill="#0000cc"/>
<rect x="451" y="619" width="1" height="1" fill="#0000cc"/>
<rect x="446.5" y="615.5" width="10" height="3" fill="#fff" stroke="#0000cc"/>
<rect x="461" y="618" width="1" height="1" fill="#0000cc"/>
<rect x="456.5" y="602.5" width="10" height="15" fill="#fff" stroke="#0000cc"/>
<rect x="471" y="599" width="1" height="3" fill="#0000cc"/>
<rect x="471" y="604" width="1" height="5" fill="#0000cc"/>
<rect x="466" y="602" width="11" height="2" fill="#0000cc"/>
<rect x="481" y="604" width="1" height="4" fill="#0000cc"/>
<rect x="476.5" y="596.5" width="11" height="7" fill="#fff" stroke="#0000cc"/>
<rect x="492" y="592" width="1" height="5" fill="#0000cc"/>
<rect x="492" y="601" width="1" height="2" fill="#0000cc"/>
<rect x="487" y="597" width="11" height="4" fill="#0000cc"/>
<rect x="502" y="593" width="1" height="8" fill="#0000cc"/>
<rect x="502" y="614" width="1" height="4" fill="#0000cc"/>
<rect x="497" y="601" width="11" height="13" fill="#0000cc"/>
<rect x="512" y="614" width="1" height="4" fill="#0000cc"/>
<rect x="507.5" y="607.5" width="10" height="6" fill="#fff" stroke="#0000cc"/>
<rect x="522" y="599" width="1" height="2" fill="#0000cc"/>
<rect x="517.5" y="601.5" width="11" height="7" fill="#fff" stroke="#0000cc"/>
<rect x="528.5" y="593.5" width="10" height="8" fill="#fff" stroke="#0000cc"/>
<rect x="543" y="580" width="1" height="3" fill="#0000cc"/>
<rect x="543" y="594" width="1" height="7" fill="#0000cc"/>
<rect x="538.5" y="583.5" width="10" height="10" fill="#fff" stroke="#0000cc"/>
<rect x="553" y="558" width="1" height="2" fill="#0000cc"/>
<rect x="553" y="582" width="1" height="1" fill="#0000cc"/>
<rect x="548.5" y="560.5" width="10" height="21" fill="#fff" stroke="#0000cc"/>
<rect x="563" y="555" width="1" height="4" fill="#0000cc"/>
<rect x="563" y="561" width="1" height="11" fill="#0000cc"/>
<rect x="558" y="559" width="11" height="2" fill="#0000cc"/>
<rect x="573" y="532" width="1" height="1" fill="#0000cc"/>
<rect x="568.5" y="533.5" width="11" height="25" fill="#fff" stroke="#0000cc"/>
<rect x="584" y="502" width="1" height="8" fill="#0000cc"/>
<rect x="584" y="534" width="1" height="1" fill="#0000cc"/>
<rect x="579.5" y="510.5" width="10" height="23" fill="#fff" stroke="#0000cc"/>
<rect x="594" y="495" width="1" height="2" fill="#0000cc"/>
<rect x="594" y="505" width="1" height="27" fill="#0000cc"/>
<rect x="589.5" y="497.5" width="10" height="7" fill="#fff" stroke="#0000cc"/>
<rect x="604" y="495" width="1" height="5" fill="#0000cc"/>
<rect x="604" y="507" width="1" height="17" fill="#0000cc"/>
<rect x="599" y="500" width="11" height="7" fill="#0000cc"/>
<rect x="614" y="487" width="1" height="3" fill="#0000cc"/>
<rect x="614" y="512" width="1" height="9" fill="#0000cc"/>
<rect x="609.5" y="490.5" width="11" height="21" fill="#fff" stroke="#0000cc"/>
<rect x="625" y="478" width="1" height="9" fill="#0000cc"/>
<rect x="625" y="491" width="1" height="5" fill="#0000cc"/>
<rect x="620" y="487" width="11" height="4" fill="#0000cc"/>
<rect x="635" y="481" width="1" height="10" fill="#0000cc"/>
<rect x="635" y="522" width="1" height="1" fill="#0000cc"/>
<rect x="630" y="491" width="11" height="31" fill="#0000cc"/>
<rect x="645" y="514" width="1" height="4" fill="#0000cc"/>
<rect x="645" y="521" width="1" height="30" fill="#0000cc"/>
<rect x="640" y="518" width="11" height="3" fill="#0000cc"/>
<rect x="655" y="516" width="1" height="3" fill="#0000cc"/>
<rect x="655" y="523" width="1" height="21" fill="#0000cc"/>
<rect x="650" y="519" width="11" height="4" fill="#0000cc"/>
<rect x="665" y="505" width="1" height="2" fill="#0000cc"/>
<rect x="665" y="524" width="1" height="4" fill="#0000cc"/>
<rect x="660.5" y="507.5" width="11" height="16" fill="#fff" stroke="#0000cc"/>
<rect x="676" y="501" width="1" height="7" fill="#0000cc"/>
<rect x="676" y="511" width="1" height="11" fill="#0000cc"/>
<rect x="671" y="508" width="11" height="3" fill="#0000cc"/>
<rect x="686" y="491" width="1" height="12" fill="#0000cc"/>
<rect x="686" y="508" width="1" height="3" fill="#0000cc"/>
<rect x="681.5" y="503.5" width="10" height="4" fill="#fff" stroke="#0000cc"/>
<rect x="696" y="498" width="1" height="7" fill="#0000cc"/>
<rect x="696" y="507" width="1" height="12" fill="#0000cc"/>
<rect x="691" y="505" width="11" height="2" fill="#0000cc"/>
<rect x="706" y="484" width="1" height="1" fill="#0000cc"/>
<rect x="706" y="505" width="1" height="3" fill="#0000cc"/>
<rect x="701.5" y="485.5" width="10" height="19" fill="#fff" stroke="#0000cc"/>
<rect x="716" y="476" width="1" height="6" fill="#0000cc"/>
<rect x="716" y="484" width="1" height="12" fill="#0000cc"/>
<rect x="711" y="482" width="12" height="2" fill="#0000cc"/>
<rect x="727" y="463" width="1" height="16" fill="#0000cc"/>
<rect x="727" y="484" width="1" height="2" fill="#0000cc"/>
<rect x="722.5" y="479.5" width="10" height="4" fill="#fff" stroke="#0000cc"/>
<rect x="737" y="479" width="1" height="1" fill="#0000cc"/>
<rect x="737" y="485" width="1" height="15" fill="#0000cc"/>
<rect x="732" y="480" width="11" height="5" fill="#0000cc"/>
<rect x="747" y="474" width="1" height="7" fill="#0000cc"/>
<rect x="747" y="484" width="1" height="7" fill="#0000cc"/>
<rect x="742" y="481" width="11" height="3" fill="#0000cc"/>
<rect x="757" y="471" width="1" height="2" fill="#0000cc"/>
<rect x="757" y="482" width="1" height="5" fill="#0000cc"/>
<rect x="752.5" y="473.5" width="11" height="8" fill="#fff" stroke="#0000cc"/>
<rect x="768" y="463" width="1" height="3" fill="#0000cc"/>
<rect x="768" y="471" width="1" height="8" fill="#0000cc"/>
<rect x="763.5" y="466.5" width="10" height="4" fill="#fff" stroke="#0000cc"/>
<rect x="778" y="463" width="1" height="3" fill="#0000cc"/>
<rect x="778" y="485" width="1" height="5" fill="#0000cc"/>
<rect x="773" y="466" width="11" height="19" fill="#0000cc"/>
<rect x="788" y="484" width="1" height="3" fill="#0000cc"/>
<rect x="788" y="500" width="1" height="27" fill="#0000cc"/>
<rect x="783" y="487" width="11" height="13" fill="#0000cc"/>
<rect x="798" y="491" width="1" height="3" fill="#0000cc"/>
<rect x="798" y="501" width="1" height="18" fill="#0000cc"/>
<rect x="793.5" y="494.5" width="10" height="6" fill="#fff" stroke="#0000cc"/>
<rect x="808" y="479" width="1" height="15" fill="#0000cc"/>
<rect x="808" y="496" width="1" height="11" fill="#0000cc"/>
<rect x="803" y="494" width="12" height="2" fill="#0000cc"/>
<rect x="819" y="492" width="1" height="2" fill="#0000cc"/>
<rect x="819" y="517" width="1" height="22" fill="#0000cc"/>
<rect x="814" y="494" width="11" height="23" fill="#0000cc"/>
<rect x="829" y="508" width="1" height="6" fill="#0000cc"/>
<rect x="829" y="527" width="1" height="5" fill="#0000cc"/>
<rect x="824" y="514" width="11" height="13" fill="#0000cc"/>
<rect x="839" y="561" width="1" height="21" fill="#0000cc"/>
<rect x="834" y="533" width="11" height="28" fill="#0000cc"/>
<rect x="849" y="548" width="1" height="12" fill="#0000cc"/>
<rect x="849" y="562" width="1" height="12" fill="#0000cc"/>
<rect x="844" y="560" width="12" height="2" fill="#0000cc"/>
<rect x="860" y="564" width="1" height="5" fill="#0000cc"/>
<rect x="860" y="583" width="1" height="18" fill="#0000cc"/>
<rect x="855" y="569" width="11" height="14" fill="#0000cc"/>
<rect x="870" y="550" width="1" height="5" fill="#0000cc"/>
<rect x="870" y="581" width="1" height="1" fill="#0000cc"/>
<rect x="865.5" y="555.5" width="10" height="25" fill="#fff" stroke="#0000cc"/>
<rect x="880" y="543" width="1" height="1" fill="#0000cc"/>
<rect x="880" y="556" width="1" height="5" fill="#0000cc"/>
<rect x="875.5" y="544.5" width="10" height="11" fill="#fff" stroke="#0000cc"/>
<rect x="890" y="539" width="1" height="5" fill="#0000cc"/>
<rect x="890" y="562" width="1" height="2" fill="#0000cc"/>
<rect x="885" y="544" width="11" height="18" fill="#0000cc"/>
<rect x="900" y="558" width="1" height="3" fill="#0000cc"/>
<rect x="900" y="565" width="1" height="13" fill="#0000cc"/>
<rect x="895" y="561" width="12" height="4" fill="#0000cc"/>
<rect x="911" y="561" width="1" height="5" fill="#0000cc"/>
<rect x="911" y="571" width="1" height="9" fill="#0000cc"/>
<rect x="906" y="566" width="11" height="5" fill="#0000cc"/>
<rect x="921" y="572" width="1" height="2" fill="#0000cc"/>
<rect x="921" y="606" width="1" height="6" fill="#0000cc"/>
<rect x="916" y="574" width="11" height="32" fill="#0000cc"/>
<rect x="931" y="665" width="1" height="29" fill="#0000cc"/>
<rect x="926" y="601" width="11" height="64" fill="#0000cc"/>
<rect x="941" y="641" width="1" height="11" fill="#0000cc"/>
<rect x="941" y="663" width="1" height="24" fill="#0000cc"/>
<rect x="936" y="652" width="11" height="11" fill="#0000cc"/>
<rect x="951" y="655" width="1" height="1" fill="#0000cc"/>
<rect x="951" y="665" width="1" height="12" fill="#0000cc"/>
<rect x="946.5" y="656.5" width="11" height="8" fill="#fff" stroke="#0000cc"/>
<rect x="962" y="646" width="1" height="3" fill="#0000cc"/>
<rect x="962" y="676" width="1" height="7" fill="#0000cc"/>
<rect x="957" y="649" width="11" height="27" fill="#0000cc"/>
<rect x="972" y="667" width="1" height="10" fill="#0000cc"/>
<rect x="972" y="683" width="1" height="9" fill="#0000cc"/>
<rect x="967" y="677" width="11" height="6" fill="#0000cc"/>
<rect x="982" y="656" width="1" height="15" fill="#0000cc"/>
<rect x="982" y="688" width="1" height="6" fill="#0000cc"/>
<rect x="977.5" y="671.5" width="10" height="16" fill="#fff" stroke="#0000cc"/>
<rect x="992" y="651" width="1" height="5" fill="#0000cc"/>
<rect x="992" y="671" width="1" height="1" fill="#0000cc"/>
<rect x="987.5" y="656.5" width="11" height="14" fill="#fff" stroke="#0000cc"/>
<rect x="1003" y="656" width="1" height="1" fill="#0000cc"/>
<rect x="998.5" y="643.5" width="10" height="12" fill="#fff" stroke="#0000cc"/>
<rect x="1013" y="629" width="1" height="5" fill="#0000cc"/>
<rect x="1008.5" y="634.5" width="10" height="9" fill="#fff" stroke="#0000cc"/>
<rect x="1023" y="624" width="1" height="1" fill="#0000cc"/>
<rect x="1023" y="636" width="1" height="18" fill="#0000cc"/>
<rect x="1018.5" y="625.5" width="10" height="10" fill="#fff" stroke="#0000cc"/>
<rect x="1033" y="617" width="1" height="6" fill="#0000cc"/>
<rect x="1033" y="627" width="1" height="4" fill="#0000cc"/>
<rect x="1028" y="623" width="11" height="4" fill="#0000cc"/>
<rect x="1043" y="620" width="1" height="4" fill="#0000cc"/>
<rect x="1043" y="631" width="1" height="3" fill="#0000cc"/>
<rect x="1038" y="624" width="12" height="7" fill="#0000cc"/>
<rect x="1054" y="624" width="1" height="6" fill="#0000cc"/>
<rect x="1054" y="634" width="1" height="7" fill="#0000cc"/>
<rect x="1049" y="630" width="11" height="4" fill="#0000cc"/>
<rect x="1064" y="646" width="1" height="8" fill="#0000cc"/>
<rect x="1059" y="633" width="11" height="13" fill="#0000cc"/>
<rect x="1074" y="617" width="1" height="5" fill="#0000cc"/>
<rect x="1074" y="647" width="1" height="3" fill="#0000cc"/>
<rect x="1069.5" y="622.5" width="10" height="24" fill="#fff" stroke="#0000cc"/>
<rect x="1079.5" y="615.5" width="11" height="7" fill="#fff" stroke="#0000cc"/>
</g>
<clipPath id="cb"><rect x="7" y="432" width="1163" height="338"/></clipPath>
<g clip-path="url(#cb)">
<polyline points="12.5,617.6 22.5,604.3 32.5,596.9 42.5,611.0 52.5,634.1 63.5,667.0 73.5,677.0 83.5,684.0 93.5,689.3 103.5,685.6 114.5,675.1 124.5,657.8 134.5,653.8 144.5,658.9 155.5,650.1 165.5,655.4 175.5,664.1 185.5,673.2 195.5,687.4 206.5,694.2 216.5,703.2 226.5,706.5 236.5,695.2 246.5,694.9 257.5,697.2 267.5,693.3 277.5,691.4 287.5,696.6 298.5,707.7 308.5,711.6 318.5,713.3 328.5,709.4 338.5,699.0 349.5,679.6 359.5,663.1 369.5,658.2 379.5,652.1 390.5,649.6 400.5,646.5 410.5,643.4 420.5,632.2 430.5,630.4 441.5,630.0 451.5,631.5 461.5,630.0 471.5,628.7 481.5,630.5 492.5,628.8 502.5,630.5 512.5,630.1 522.5,628.3 533.5,625.3 543.5,625.1 553.5,640.9 563.5,645.3 573.5,660.2 584.5,674.4 594.5,673.9 604.5,660.9 614.5,646.5 625.5,624.5 635.5,596.2 645.5,578.6 655.5,553.4 665.5,542.9 676.5,543.1 686.5,542.5 696.5,542.5 706.5,544.6 716.5,547.6 727.5,547.0 737.5,540.8 747.5,529.5 757.5,527.0 768.5,520.4 778.5,512.1 788.5,507.3 798.5,510.9 808.5,514.7 819.5,530.4 829.5,547.5 839.5,583.8 849.5,604.8 860.5,625.6 870.5,627.4 880.5,625.8 890.5,622.6 900.5,611.1 911.5,604.3 921.5,618.1 931.5,682.4 941.5,717.9 951.5,740.0 962.5,761.6 972.5,771.2 982.5,770.1 992.5,753.6 1003.5,721.3 1013.5,703.9 1023.5,710.6 1033.5,713.1 1043.5,713.1 1054.5,703.7 1064.5,684.2 1074.5,667.6 1084.5,658.7" fill="none" stroke="#ff0000" stroke-width="0.99" shape-rendering="crispEdges" />
<polyline points="12.5,593.3 22.5,587.1 32.5,584.2 42.5,595.6 52.5,614.0 63.5,638.9 73.5,648.2 83.5,654.6 93.5,660.0 103.5,660.6 114.5,655.6 124.5,645.5 134.5,643.1 144.5,645.8 155.5,639.2 165.5,643.1 175.5,649.7 185.5,656.7 195.5,667.1 206.5,672.7 216.5,680.6 226.5,685.3 236.5,680.3 246.5,682.2 257.5,685.3 267.5,683.6 277.5,682.4 287.5,685.2 298.5,691.7 308.5,693.0 318.5,692.4 328.5,688.5 338.5,679.4 349.5,664.2 359.5,651.3 369.5,646.0 379.5,640.3 390.5,638.0 400.5,634.6 410.5,632.1 420.5,623.8 430.5,622.5 441.5,622.2 451.5,623.3 461.5,622.5 471.5,621.9 481.5,622.7 492.5,621.8 502.5,623.2 512.5,622.8 522.5,621.0 533.5,618.2 543.5,616.9 553.5,625.8 563.5,627.2 573.5,634.8 584.5,640.9 594.5,636.3 604.5,623.8 614.5,610.1 625.5,591.7 635.5,570.5 645.5,557.3 655.5,539.0 665.5,531.1 676.5,531.2 686.5,531.1 696.5,531.0 706.5,532.2 716.5,534.0 727.5,532.0 737.5,526.5 747.5,517.5 757.5,514.6 768.5,508.6 778.5,502.4 788.5,499.0 798.5,501.7 808.5,504.7 819.5,516.5 829.5,529.5 839.5,556.6 849.5,573.8 860.5,592.0 870.5,595.8 880.5,596.4 890.5,596.8 900.5,591.7 911.5,589.2 921.5,601.4 931.5,648.0 941.5,675.4 951.5,692.9 962.5,711.7 972.5,723.2 982.5,726.6 992.5,719.0 1003.5,700.1 1013.5,689.5 1023.5,692.6 1033.5,692.8 1043.5,691.9 1054.5,684.1 1064.5,669.8 1074.5,656.9 1084.5,649.4" fill="none" stroke="#ff0000" stroke-width="0.99" shape-rendering="crispEdges" />
<polyline points="12.5,568.9 22.5,569.8 32.5,571.5 42.5,580.2 52.5,593.8 63.5,610.9 73.5,619.4 83.5,625.1 93.5,630.7 103.5,635.6 114.5,636.2 124.5,633.2 134.5,632.5 144.5,632.6 155.5,628.2 165.5,630.8 175.5,635.4 185.5,640.1 195.5,646.9 206.5,651.3 216.5,658.1 226.5,664.1 236.5,665.4 246.5,669.5 257.5,673.3 267.5,673.8 277.5,673.5 287.5,673.7 298.5,675.6 308.5,674.4 318.5,671.5 328.5,667.6 338.5,659.8 349.5,648.9 359.5,639.5 369.5,633.7 379.5,628.4 390.5,626.3 400.5,622.8 410.5,620.7 420.5,615.4 430.5,614.6 441.5,614.4 451.5,615.1 461.5,615.1 471.5,615.1 481.5,614.8 492.5,614.7 502.5,615.8 512.5,615.5 522.5,613.8 533.5,611.1 543.5,608.7 553.5,610.8 563.5,609.1 573.5,609.4 584.5,607.4 594.5,598.6 604.5,586.7 614.5,573.7 625.5,558.8 635.5,544.7 645.5,536.0 655.5,524.7 665.5,519.3 676.5,519.4 686.5,519.7 696.5,519.5 706.5,519.9 716.5,520.3 727.5,517.0 737.5,512.2 747.5,505.6 757.5,502.2 768.5,496.8 778.5,492.6 788.5,490.6 798.5,492.5 808.5,494.7 819.5,502.6 829.5,511.5 839.5,529.3 849.5,542.9 860.5,558.4 870.5,564.3 880.5,567.1 890.5,571.0 900.5,572.3 911.5,574.0 921.5,584.6 931.5,613.7 941.5,633.0 951.5,645.8 962.5,661.8 972.5,675.3 982.5,683.0 992.5,684.4 1003.5,678.9 1013.5,675.2 1023.5,674.6 1033.5,672.6 1043.5,670.7 1054.5,664.5 1064.5,655.3 1074.5,646.1 1084.5,640.1" fill="none" stroke="#ff0000" stroke-width="0.99" shape-rendering="crispEdges" />
<polyline points="12.5,520.2 22.5,535.3 32.5,546.1 42.5,549.4 52.5,553.6 63.5,554.9 73.5,561.9 83.5,566.2 93.5,572.1 103.5,585.6 114.5,597.3 124.5,608.7 134.5,611.1 144.5,606.3 155.5,606.3 165.5,606.2 175.5,606.7 185.5,607.1 195.5,606.3 206.5,608.4 216.5,613.1 226.5,621.6 236.5,635.6 246.5,644.0 257.5,649.4 267.5,654.2 277.5,655.5 287.5,650.8 298.5,643.5 308.5,637.2 318.5,629.6 328.5,625.8 338.5,620.6 349.5,618.2 359.5,615.8 369.5,609.2 379.5,604.8 390.5,603.0 400.5,599.0 410.5,598.0 420.5,598.6 430.5,598.7 441.5,598.7 451.5,598.8 461.5,600.2 471.5,601.6 481.5,599.2 492.5,600.5 502.5,601.1 512.5,600.8 522.5,599.4 533.5,596.9 543.5,592.2 553.5,580.7 563.5,572.8 573.5,558.5 584.5,540.4 594.5,523.3 604.5,512.6 614.5,501.0 625.5,493.1 635.5,493.2 645.5,493.3 655.5,496.0 665.5,495.6 676.5,495.7 686.5,496.8 696.5,496.6 706.5,495.2 716.5,493.0 727.5,487.0 737.5,483.7 747.5,481.7 757.5,477.5 768.5,473.2 778.5,473.1 788.5,473.9 798.5,474.1 808.5,474.6 819.5,474.9 829.5,475.4 839.5,474.8 849.5,481.0 860.5,491.2 870.5,501.1 880.5,508.4 890.5,519.4 900.5,533.5 911.5,543.8 921.5,551.0 931.5,545.0 941.5,548.0 951.5,551.6 962.5,562.1 972.5,579.4 982.5,595.9 992.5,615.1 1003.5,636.5 1013.5,646.6 1023.5,638.5 1033.5,632.2 1043.5,628.4 1054.5,625.3 1064.5,626.4 1074.5,624.7 1084.5,621.5" fill="none" stroke="#ff0000" stroke-width="0.99" shape-rendering="crispEdges" />
<polyline points="12.5,495.9 22.5,518.0 32.5,533.4 42.5,534.0 52.5,533.4 63.5,526.9 73.5,533.1 83.5,536.8 93.5,542.8 103.5,560.6 114.5,577.9 124.5,596.4 134.5,600.5 144.5,593.1 155.5,595.4 165.5,594.0 175.5,592.3 185.5,590.6 195.5,586.1 206.5,587.0 216.5,590.6 226.5,600.4 236.5,620.7 246.5,631.2 257.5,637.5 267.5,644.4 277.5,646.5 287.5,639.4 298.5,627.4 308.5,618.5 318.5,608.7 328.5,604.9 338.5,601.0 349.5,602.9 359.5,604.0 369.5,597.0 379.5,592.9 390.5,591.3 400.5,587.1 410.5,586.6 420.5,590.3 430.5,590.8 441.5,590.9 451.5,590.6 461.5,592.7 471.5,594.8 481.5,591.4 492.5,593.5 502.5,593.7 512.5,593.5 522.5,592.2 533.5,589.8 543.5,583.9 553.5,565.7 563.5,554.6 573.5,533.1 584.5,506.8 594.5,485.6 604.5,475.5 614.5,464.6 625.5,460.2 635.5,467.5 645.5,471.9 655.5,481.6 665.5,483.8 676.5,483.8 686.5,485.3 696.5,485.1 706.5,482.8 716.5,479.4 727.5,472.1 737.5,469.4 747.5,469.7 757.5,465.1 768.5,461.4 778.5,463.4 788.5,465.5 798.5,464.8 808.5,464.6 819.5,461.0 829.5,457.4 839.5,447.5 849.5,450.0 860.5,457.6 870.5,469.6 880.5,479.0 890.5,493.6 900.5,514.0 911.5,528.6 921.5,534.2 931.5,510.6 941.5,505.6 951.5,504.5 962.5,512.2 972.5,531.4 982.5,552.4 992.5,580.4 1003.5,615.3 1013.5,632.2 1023.5,620.5 1033.5,611.9 1043.5,607.2 1054.5,605.7 1064.5,612.0 1074.5,613.9 1084.5,612.2" fill="none" stroke="#ff0000" stroke-width="0.99" shape-rendering="crispEdges" />
<polyline points="12.5,471.5 22.5,500.8 32.5,520.7 42.5,518.6 52.5,513.3 63.5,498.9 73.5,504.3 83.5,507.4 93.5,513.5 103.5,535.6 114.5,558.4 124.5,584.2 134.5,589.8 144.5,579.9 155.5,584.4 165.5,581.7 175.5,578.0 185.5,574.0 195.5,565.8 206.5,565.6 216.5,568.0 226.5,579.2 236.5,605.9 246.5,618.5 257.5,625.6 267.5,634.6 277.5,637.5 287.5,627.9 298.5,611.3 308.5,599.9 318.5,587.8 328.5,584.0 338.5,581.4 349.5,587.5 359.5,592.2 369.5,584.7 379.5,581.1 390.5,579.7 400.5,575.3 410.5,575.2 420.5,581.9 430.5,582.8 441.5,583.1 451.5,582.5 461.5,585.3 471.5,588.0 481.5,583.6 492.5,586.4 502.5,586.4 512.5,586.2 522.5,585.0 533.5,582.6 543.5,575.7 553.5,550.7 563.5,536.5 573.5,507.7 584.5,473.3 594.5,448.0 604.5,438.4 614.5,428.2 625.5,427.3 635.5,441.8 645.5,450.6 655.5,467.3 665.5,472.0 676.5,472.0 686.5,473.9 696.5,473.6 706.5,470.4 716.5,465.8 727.5,457.1 737.5,455.2 747.5,457.8 757.5,452.7 768.5,449.6 778.5,453.6 788.5,457.2 798.5,455.6 808.5,454.6 819.5,447.1 829.5,439.3 839.5,420.3 849.5,419.1 860.5,424.0 870.5,438.0 880.5,449.7 890.5,467.8 900.5,494.6 911.5,513.5 921.5,517.5 931.5,476.2 941.5,463.1 951.5,457.4 962.5,462.4 972.5,483.5 982.5,508.8 992.5,545.8 1003.5,594.1 1013.5,617.9 1023.5,602.5 1033.5,591.7 1043.5,586.0 1054.5,586.2 1064.5,597.6 1074.5,603.2 1084.5,603.0" fill="none" stroke="#ff0000" stroke-width="0.99" shape-rendering="crispEdges" />
<polyline points="12.5,544.6 22.5,552.5 32.5,558.8 42.5,564.8 52.5,573.7 63.5,582.9 73.5,590.7 83.5,595.7 93.5,601.4 103.5,610.6 114.5,616.7 124.5,621.0 134.5,621.8 144.5,619.4 155.5,617.3 165.5,618.5 175.5,621.0 185.5,623.6 195.5,626.6 206.5,629.9 216.5,635.6 226.5,642.9 236.5,650.5 246.5,656.7 257.5,661.4 267.5,664.0 277.5,664.5 287.5,662.3 298.5,659.5 308.5,655.8 318.5,650.6 328.5,646.7 338.5,640.2 349.5,633.6 359.5,627.7 369.5,621.5 379.5,616.6 390.5,614.6 400.5,610.9 410.5,609.3 420.5,607.0 430.5,606.6 441.5,606.6 451.5,607.0 461.5,607.6 471.5,608.4 481.5,607.0 492.5,607.6 502.5,608.4 512.5,608.1 522.5,606.6 533.5,604.0 543.5,600.4 553.5,595.8 563.5,590.9 573.5,584.0 584.5,573.9 594.5,560.9 604.5,549.7 614.5,537.4 625.5,525.9 635.5,519.0 645.5,514.6 655.5,510.3 665.5,507.5 676.5,507.5 686.5,508.2 696.5,508.1 706.5,507.5 716.5,506.7 727.5,502.0 737.5,498.0 747.5,493.6 757.5,489.8 768.5,485.0 778.5,482.9 788.5,482.2 798.5,483.3 808.5,484.6 819.5,488.8 829.5,493.4 839.5,502.0 849.5,511.9 860.5,524.8 870.5,532.7 880.5,537.7 890.5,545.2 900.5,552.9 911.5,558.9 921.5,567.8 931.5,579.3 941.5,590.5 951.5,598.7 962.5,612.0 972.5,627.3 982.5,639.5 992.5,649.7 1003.5,657.7 1013.5,660.9 1023.5,656.6 1033.5,652.4 1043.5,649.6 1054.5,644.9 1064.5,640.9 1074.5,635.4 1084.5,630.8" fill="none" stroke="#404040" stroke-width="0.99" shape-rendering="crispEdges" />
</g>
<g shape-rendering="crispEdges">
<rect x="7.5" y="758.5" width="10" height="11" fill="#99ccff" stroke="#0000cc"/>
<rect x="17.5" y="760.5" width="10" height="9" fill="#99ccff" stroke="#0000cc"/>
<rect x="27.5" y="759.5" width="10" height="10" fill="#99ccff" stroke="#0000cc"/>
<rect x="37.5" y="758.5" width="10" height="11" fill="#99ccff" stroke="#0000cc"/>
<rect x="47.5" y="757.5" width="11" height="12" fill="#99ccff" stroke="#0000cc"/>
<rect x="58.5" y="758.5" width="10" height="11" fill="#99ccff" stroke="#0000cc"/>
<rect x="68.5" y="758.5" width="10" height="11" fill="#99ccff" stroke="#0000cc"/>
<rect x="78.5" y="758.5" width="10" height="11" fill="#99ccff" stroke="#0000cc"/>
<rect x="88.5" y="760.5" width="10" height="9" fill="#99ccff" stroke="#0000cc"/>
<rect x="98.5" y="761.5" width="11" height="8" fill="#99ccff" stroke="#0000cc"/>
<rect x="109.5" y="758.5" width="10" height="11" fill="#99ccff" stroke="#0000cc"/>
<rect x="119.5" y="757.5" width="10" height="12" fill="#99ccff" stroke="#0000cc"/>
<rect x="129.5" y="759.5" width="10" height="10" fill="#99ccff" stroke="#0000cc"/>
<rect x="139.5" y="760.5" width="11" height="9" fill="#99ccff" stroke="#0000cc"/>
<rect x="150.5" y="758.5" width="10" height="11" fill="#99ccff" stroke="#0000cc"/>
<rect x="160.5" y="754.5" width="10" height="15" fill="#99ccff" stroke="#0000cc"/>
<rect x="170.5" y="759.5" width="10" height="10" fill="#99ccff" stroke="#0000cc"/>
<rect x="180.5" y="758.5" width="10" height="11" fill="#99ccff" stroke="#0000cc"/>
<rect x="190.5" y="755.5" width="11" height="14" fill="#99ccff" stroke="#0000cc"/>
<rect x="201.5" y="758.5" width="10" height="11" fill="#99ccff" stroke="#0000cc"/>
<rect x="211.5" y="760.5" width="10" height="9" fill="#99ccff" stroke="#0000cc"/>
<rect x="221.5" y="759.5" width="10" height="10" fill="#99ccff" stroke="#0000cc"/>
<rect x="231.5" y="758.5" width="10" height="11" fill="#99ccff" stroke="#0000cc"/>
<rect x="241.5" y="758.5" width="11" height="11" fill="#99ccff" stroke="#0000cc"/>
<rect x="252.5" y="756.5" width="10" height="13" fill="#99ccff" stroke="#0000cc"/>
<rect x="262.5" y="757.5" width="10" height="12" fill="#99ccff" stroke="#0000cc"/>
<rect x="272.5" y="756.5" width="10" height="13" fill="#99ccff" stroke="#0000cc"/>
<rect x="282.5" y="751.5" width="11" height="18" fill="#99ccff" stroke="#0000cc"/>
<rect x="293.5" y="754.5" width="10" height="15" fill="#99ccff" stroke="#0000cc"/>
<rect x="303.5" y="754.5" width="10" height="15" fill="#99ccff" stroke="#0000cc"/>
<rect x="313.5" y="752.5" width="10" height="17" fill="#99ccff" stroke="#0000cc"/>
<rect x="323.5" y="755.5" width="10" height="14" fill="#99ccff" stroke="#0000cc"/>
<rect x="333.5" y="758.5" width="11" height="11" fill="#99ccff" stroke="#0000cc"/>
<rect x="344.5" y="756.5" width="10" height="13" fill="#99ccff" stroke="#0000cc"/>
<rect x="354.5" y="755.5" width="10" height="14" fill="#99ccff" stroke="#0000cc"/>
<rect x="364.5" y="752.5" width="10" height="17" fill="#99ccff" stroke="#0000cc"/>
<rect x="374.5" y="752.5" width="11" height="17" fill="#99ccff" stroke="#0000cc"/>
<rect x="385.5" y="750.5" width="10" height="19" fill="#99ccff" stroke="#0000cc"/>
<rect x="395.5" y="752.5" width="10" height="17" fill="#99ccff" stroke="#0000cc"/>
<rect x="405.5" y="755.5" width="10" height="14" fill="#99ccff" stroke="#0000cc"/>
<rect x="415.5" y="755.5" width="10" height="14" fill="#99ccff" stroke="#0000cc"/>
<rect x="425.5" y="757.5" width="11" height="12" fill="#99ccff" stroke="#0000cc"/>
<rect x="436.5" y="754.5" width="10" height="15" fill="#99ccff" stroke="#0000cc"/>
<rect x="446.5" y="755.5" width="10" height="14" fill="#99ccff" stroke="#0000cc"/>
<rect x="456.5" y="755.5" width="10" height="14" fill="#99ccff" stroke="#0000cc"/>
<rect x="466.5" y="756.5" width="10" height="13" fill="#99ccff" stroke="#0000cc"/>
<rect x="476.5" y="757.5" width="11" height="12" fill="#99ccff" stroke="#0000cc"/>
<rect x="487.5" y="754.5" width="10" height="15" fill="#99ccff" stroke="#0000cc"/>
<rect x="497.5" y="748.5" width="10" height="21" fill="#99ccff" stroke="#0000cc"/>
<rect x="507.5" y="755.5" width="10" height="14" fill="#99ccff" stroke="#0000cc"/>
<rect x="517.5" y="756.5" width="11" height="13" fill="#99ccff" stroke="#0000cc"/>
<rect x="528.5" y="756.5" width="10" height="13" fill="#99ccff" stroke="#0000cc"/>
<rect x="538.5" y="746.5" width="10" height="23" fill="#99ccff" stroke="#0000cc"/>
<rect x="548.5" y="750.5" width="10" height="19" fill="#99ccff" stroke="#0000cc"/>
<rect x="558.5" y="742.5" width="10" height="27" fill="#99ccff" stroke="#0000cc"/>
<rect x="568.5" y="747.5" width="11" height="22" fill="#99ccff" stroke="#0000cc"/>
<rect x="579.5" y="737.5" width="10" height="32" fill="#99ccff" stroke="#0000cc"/>
<rect x="589.5" y="737.5" width="10" height="32" fill="#99ccff" stroke="#0000cc"/>
<rect x="599.5" y="739.5" width="10" height="30" fill="#99ccff" stroke="#0000cc"/>
<rect x="609.5" y="743.5" width="11" height="26" fill="#99ccff" stroke="#0000cc"/>
<rect x="620.5" y="740.5" width="10" height="29" fill="#99ccff" stroke="#0000cc"/>
<rect x="630.5" y="737.5" width="10" height="32" fill="#99ccff" stroke="#0000cc"/>
<rect x="640.5" y="733.5" width="10" height="36" fill="#99ccff" stroke="#0000cc"/>
<rect x="650.5" y="741.5" width="10" height="28" fill="#99ccff" stroke="#0000cc"/>
<rect x="660.5" y="742.5" width="11" height="27" fill="#99ccff" stroke="#0000cc"/>
<rect x="671.5" y="744.5" width="10" height="25" fill="#99ccff" stroke="#0000cc"/>
<rect x="681.5" y="744.5" width="10" height="25" fill="#99ccff" stroke="#0000cc"/>
<rect x="691.5" y="742.5" width="10" height="27" fill="#99ccff" stroke="#0000cc"/>
<rect x="701.5" y="748.5" width="10" height="21" fill="#99ccff" stroke="#0000cc"/>
<rect x="711.5" y="741.5" width="11" height="28" fill="#99ccff" stroke="#0000cc"/>
<rect x="722.5" y="738.5" width="10" height="31" fill="#99ccff" stroke="#0000cc"/>
<rect x="732.5" y="731.5" width="10" height="38" fill="#99ccff" stroke="#0000cc"/>
<rect x="742.5" y="738.5" width="10" height="31" fill="#99ccff" stroke="#0000cc"/>
<rect x="752.5" y="737.5" width="11" height="32" fill="#99ccff" stroke="#0000cc"/>
<rect x="763.5" y="741.5" width="10" height="28" fill="#99ccff" stroke="#0000cc"/>
<rect x="773.5" y="739.5" width="10" height="30" fill="#99ccff" stroke="#0000cc"/>
<rect x="783.5" y="717.5" width="10" height="52" fill="#99ccff" stroke="#0000cc"/>
<rect x="793.5" y="739.5" width="10" height="30" fill="#99ccff" stroke="#0000cc"/>
<rect x="803.5" y="735.5" width="11" height="34" fill="#99ccff" stroke="#0000cc"/>
<rect x="814.5" y="725.5" width="10" height="44" fill="#99ccff" stroke="#0000cc"/>
<rect x="824.5" y="742.5" width="10" height="27" fill="#99ccff" stroke="#0000cc"/>
<rect x="834.5" y="726.5" width="10" height="43" fill="#99ccff" stroke="#0000cc"/>
<rect x="844.5" y="734.5" width="11" height="35" fill="#99ccff" stroke="#0000cc"/>
<rect x="855.5" y="731.5" width="10" height="38" fill="#99ccff" stroke="#0000cc"/>
<rect x="865.5" y="737.5" width="10" height="32" fill="#99ccff" stroke="#0000cc"/>
<rect x="875.5" y="735.5" width="10" height="34" fill="#99ccff" stroke="#0000cc"/>
<rect x="885.5" y="737.5" width="10" height="32" fill="#99ccff" stroke="#0000cc"/>
<rect x="895.5" y="730.5" width="11" height="39" fill="#99ccff" stroke="#0000cc"/>
<rect x="906.5" y="739.5" width="10" height="30" fill="#99ccff" stroke="#0000cc"/>
<rect x="916.5" y="732.5" width="10" height="37" fill="#99ccff" stroke="#0000cc"/>
<rect x="926.5" y="702.5" width="10" height="67" fill="#99ccff" stroke="#0000cc"/>
<rect x="936.5" y="735.5" width="10" height="34" fill="#99ccff" stroke="#0000cc"/>
<rect x="946.5" y="743.5" width="11" height="26" fill="#99ccff" stroke="#0000cc"/>
<rect x="957.5" y="745.5" width="10" height="24" fill="#99ccff" stroke="#0000cc"/>
<rect x="967.5" y="744.5" width="10" height="25" fill="#99ccff" stroke="#0000cc"/>
<rect x="977.5" y="740.5" width="10" height="29" fill="#99ccff" stroke="#0000cc"/>
<rect x="987.5" y="740.5" width="11" height="29" fill="#99ccff" stroke="#0000cc"/>
<rect x="998.5" y="750.5" width="10" height="19" fill="#99ccff" stroke="#0000cc"/>
<rect x="1008.5" y="746.5" width="10" height="23" fill="#99ccff" stroke="#0000cc"/>
<rect x="1018.5" y="743.5" width="10" height="26" fill="#99ccff" stroke="#0000cc"/>
<rect x="1028.5" y="741.5" width="10" height="28" fill="#99ccff" stroke="#0000cc"/>
<rect x="1038.5" y="747.5" width="11" height="22" fill="#99ccff" stroke="#0000cc"/>
<rect x="1049.5" y="747.5" width="10" height="22" fill="#99ccff" stroke="#0000cc"/>
<rect x="1059.5" y="747.5" width="10" height="22" fill="#99ccff" stroke="#0000cc"/>
<rect x="1069.5" y="746.5" width="10" height="23" fill="#99ccff" stroke="#0000cc"/>
<rect x="1079.5" y="764.5" width="11" height="5" fill="#99ccff" stroke="#0000cc"/>
</g>
<g shape-rendering="crispEdges">
<rect x="6" y="431" width="1165" height="1" fill="#000"/>
<rect x="6" y="770" width="1165" height="1" fill="#000"/>
<rect x="6" y="431" width="1" height="340" fill="#000"/>
<rect x="1170" y="431" width="1" height="340" fill="#000"/>
</g>
<rect x="6" y="771" width="1148" height="1.5" fill="#c6c6c6"/><rect x="1154" y="771" width="17" height="1.4" fill="#ececec"/><rect x="1006" y="771" width="17" height="2" fill="#fff"/><rect x="1007" y="771" width="15" height="1" fill="#cfcfcf"/>
<text transform="translate(100.0,443) scale(0.7,1)" font-size="12.4" fill="#000" stroke="#000" stroke-width="0.25" textLength="22.6" lengthAdjust="spacing">2/1</text>
<text transform="translate(223.0,443) scale(0.7,1)" font-size="12.4" fill="#000" stroke="#000" stroke-width="0.25" textLength="22.6" lengthAdjust="spacing">3/1</text>
<text transform="translate(346.0,443) scale(0.7,1)" font-size="12.4" fill="#000" stroke="#000" stroke-width="0.25" textLength="22.6" lengthAdjust="spacing">4/1</text>
<text transform="translate(468.0,443) scale(0.7,1)" font-size="12.4" fill="#000" stroke="#000" stroke-width="0.25" textLength="22.6" lengthAdjust="spacing">5/1</text>
<text transform="translate(591.0,443) scale(0.7,1)" font-size="12.4" fill="#000" stroke="#000" stroke-width="0.25" textLength="22.6" lengthAdjust="spacing">6/1</text>
<text transform="translate(713.0,443) scale(0.7,1)" font-size="12.4" fill="#000" stroke="#000" stroke-width="0.25" textLength="22.6" lengthAdjust="spacing">7/1</text>
<text transform="translate(836.0,443) scale(0.7,1)" font-size="12.4" fill="#000" stroke="#000" stroke-width="0.25" textLength="22.6" lengthAdjust="spacing">8/1</text>
<text transform="translate(959.0,443) scale(0.7,1)" font-size="12.4" fill="#000" stroke="#000" stroke-width="0.25" textLength="22.6" lengthAdjust="spacing">9/1</text>
<text transform="translate(1081.0,443) scale(0.7,1)" font-size="12.4" fill="#000" stroke="#000" stroke-width="0.25" textLength="31.1" lengthAdjust="spacing">10/1</text>
<text transform="translate(1139.5,470) scale(0.7,1)" font-size="12.4" fill="#000" stroke="#000" stroke-width="0.25" textLength="39.7" lengthAdjust="spacing">18000</text>
<text transform="translate(1139.5,511) scale(0.7,1)" font-size="12.4" fill="#000" stroke="#000" stroke-width="0.25" textLength="39.7" lengthAdjust="spacing">16000</text>
<text transform="translate(1139.5,551) scale(0.7,1)" font-size="12.4" fill="#000" stroke="#000" stroke-width="0.25" textLength="39.7" lengthAdjust="spacing">14000</text>
<text transform="translate(1139.5,591) scale(0.7,1)" font-size="12.4" fill="#000" stroke="#000" stroke-width="0.25" textLength="39.7" lengthAdjust="spacing">12000</text>
<text transform="translate(1139.5,632) scale(0.7,1)" font-size="12.4" fill="#000" stroke="#000" stroke-width="0.25" textLength="39.7" lengthAdjust="spacing">10000</text>
<text transform="translate(1145.5,672) scale(0.7,1)" font-size="12.4" fill="#000" stroke="#000" stroke-width="0.25" textLength="31.1" lengthAdjust="spacing">8000</text>
<text transform="translate(1139.5,706) scale(0.7,1)" font-size="12.4" fill="#000" stroke="#000" stroke-width="0.25" textLength="39.7" lengthAdjust="spacing">400万</text>
<text transform="translate(1139.5,738) scale(0.7,1)" font-size="12.4" fill="#000" stroke="#000" stroke-width="0.25" textLength="39.7" lengthAdjust="spacing">200万</text>
<text transform="translate(1163.5,769) scale(0.7,1)" font-size="12.4" fill="#000" stroke="#000" stroke-width="0.25" textLength="5.4" lengthAdjust="spacing">0</text>
<ellipse cx="280.3" cy="663.6" rx="10.3" ry="54.2" fill="none" stroke="#a349a4" stroke-width="2.6"/>
<ellipse cx="363.6" cy="613.4" rx="13.5" ry="57.8" fill="none" stroke="#ed1c24" stroke-width="3"/>
<ellipse cx="1022" cy="622.4" rx="34.3" ry="19.4" fill="none" stroke="#ed1c24" stroke-width="3"/>
<ellipse cx="1090.8" cy="629.7" rx="14" ry="56.3" fill="none" stroke="#ed1c24" stroke-width="2.8"/>
<path d="M1068.2 577 L1097 554.6 M1082 555.3 H1097.7 M1096.6 554 V569.6" fill="none" stroke="#ed1c24" stroke-width="2.5"/>
<text x="1175" y="206.7" font-size="12.6" letter-spacing="0.6" fill="#ed1c24">上値抵抗となっていた24ヶ</text>
<text x="1175" y="232.2" font-size="12.6" letter-spacing="0.6" fill="#ed1c24">月線、トレンドラインをブレ</text>
<text x="1175" y="258.2" font-size="12.6" letter-spacing="0.6" fill="#ed1c24">イクした。</text>
<text x="1026.5" y="520.5" font-size="12.6" letter-spacing="0.4" fill="#ed1c24">ボリバン収縮から上はなれた。＋２σを</text>
<text x="1026.5" y="546" font-size="12.6" letter-spacing="0.4" fill="#ed1c24">目指していると考える</text>
<text x="939.5" y="561.5" font-size="12.6" letter-spacing="0.4" fill="#ed1c24">このあたりでは</text>
<text x="940" y="587.5" font-size="12.6" letter-spacing="0.4" fill="#ed1c24">＋2シグマが上値だった</text>
<text x="365" y="696.5" font-size="12.6" letter-spacing="0.4" fill="#ed1c24">前回は紫と同じになるといったが間違い</text>
<text x="365" y="722.5" font-size="12.6" letter-spacing="0.4" fill="#ed1c24">で、赤と同じ動きになると予想する。</text>
</svg>
</body></html>
